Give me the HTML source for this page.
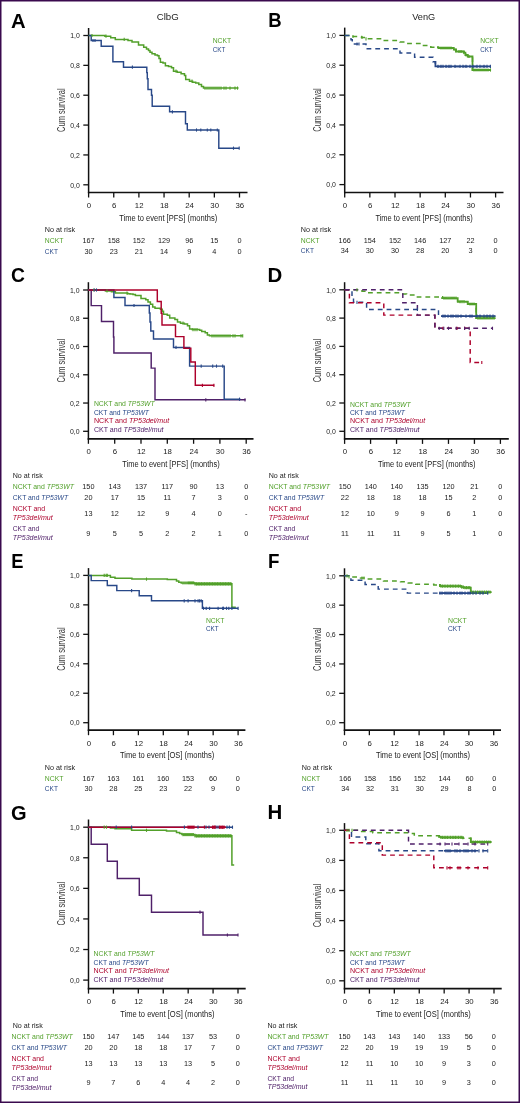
<!DOCTYPE html>
<html><head><meta charset="utf-8"><style>
html,body{margin:0;padding:0;background:#fff;}
svg{display:block;font-family:"Liberation Sans", sans-serif;will-change:transform;}
</style></head><body>
<svg width="520" height="1103" viewBox="0 0 520 1103">
<rect x="0" y="0" width="520" height="1103" fill="#fff"/>
<line x1="88.6" y1="28" x2="88.6" y2="193.3" stroke="#111" stroke-width="1.5"/>
<line x1="87.89999999999999" y1="192.5" x2="247.5" y2="192.5" stroke="#111" stroke-width="1.7"/>
<line x1="83.3" y1="35.50" x2="88.6" y2="35.50" stroke="#111" stroke-width="1.3"/>
<text x="79.80" y="38.25" font-size="7.6" fill="#222" text-anchor="end" textLength="9.6" lengthAdjust="spacingAndGlyphs">1,0</text>
<line x1="83.3" y1="65.36" x2="88.6" y2="65.36" stroke="#111" stroke-width="1.3"/>
<text x="79.80" y="68.11" font-size="7.6" fill="#222" text-anchor="end" textLength="9.6" lengthAdjust="spacingAndGlyphs">0,8</text>
<line x1="83.3" y1="95.22" x2="88.6" y2="95.22" stroke="#111" stroke-width="1.3"/>
<text x="79.80" y="97.97" font-size="7.6" fill="#222" text-anchor="end" textLength="9.6" lengthAdjust="spacingAndGlyphs">0,6</text>
<line x1="83.3" y1="125.08" x2="88.6" y2="125.08" stroke="#111" stroke-width="1.3"/>
<text x="79.80" y="127.83" font-size="7.6" fill="#222" text-anchor="end" textLength="9.6" lengthAdjust="spacingAndGlyphs">0,4</text>
<line x1="83.3" y1="154.94" x2="88.6" y2="154.94" stroke="#111" stroke-width="1.3"/>
<text x="79.80" y="157.69" font-size="7.6" fill="#222" text-anchor="end" textLength="9.6" lengthAdjust="spacingAndGlyphs">0,2</text>
<line x1="83.3" y1="184.80" x2="88.6" y2="184.80" stroke="#111" stroke-width="1.3"/>
<text x="79.80" y="187.55" font-size="7.6" fill="#222" text-anchor="end" textLength="9.6" lengthAdjust="spacingAndGlyphs">0,0</text>
<line x1="88.60" y1="192.5" x2="88.60" y2="197.5" stroke="#111" stroke-width="1.3"/>
<text x="88.90" y="207.80" font-size="7.8" fill="#222" text-anchor="middle">0</text>
<line x1="113.75" y1="192.5" x2="113.75" y2="197.5" stroke="#111" stroke-width="1.3"/>
<text x="114.05" y="207.80" font-size="7.8" fill="#222" text-anchor="middle">6</text>
<line x1="138.90" y1="192.5" x2="138.90" y2="197.5" stroke="#111" stroke-width="1.3"/>
<text x="139.20" y="207.80" font-size="7.8" fill="#222" text-anchor="middle">12</text>
<line x1="164.05" y1="192.5" x2="164.05" y2="197.5" stroke="#111" stroke-width="1.3"/>
<text x="164.35" y="207.80" font-size="7.8" fill="#222" text-anchor="middle">18</text>
<line x1="189.20" y1="192.5" x2="189.20" y2="197.5" stroke="#111" stroke-width="1.3"/>
<text x="189.50" y="207.80" font-size="7.8" fill="#222" text-anchor="middle">24</text>
<line x1="214.35" y1="192.5" x2="214.35" y2="197.5" stroke="#111" stroke-width="1.3"/>
<text x="214.65" y="207.80" font-size="7.8" fill="#222" text-anchor="middle">30</text>
<line x1="239.50" y1="192.5" x2="239.50" y2="197.5" stroke="#111" stroke-width="1.3"/>
<text x="239.80" y="207.80" font-size="7.8" fill="#222" text-anchor="middle">36</text>
<text x="119.20" y="220.60" font-size="9.7" fill="#222" textLength="98" lengthAdjust="spacingAndGlyphs">Time to event [PFS] (months)</text>
<text x="0" y="0" font-size="10" fill="#383838" text-anchor="middle" textLength="43.6" lengthAdjust="spacingAndGlyphs" transform="translate(64.70,110.15) rotate(-90)">Cum survival</text>
<text x="0" y="0" font-size="19.3" font-weight="bold" fill="#000" transform="translate(11.10,27.70) scale(1.05,1)">A</text>
<text x="156.70" y="20.20" font-size="9.6" fill="#222" textLength="22" lengthAdjust="spacingAndGlyphs">ClbG</text>
<path d="M88.60,35.50 L104.90,35.50 L104.90,36.20 L110.70,36.20 L110.70,37.70 L115.30,37.70 L115.30,39.40 L128.00,39.40 L128.00,40.40 L132.00,40.40 L132.00,42.10 L138.50,42.10 L138.50,45.10 L143.70,45.10 L143.70,47.30 L146.50,47.30 L146.50,49.00 L148.50,49.00 L148.50,50.50 L150.00,50.50 L150.00,52.30 L152.00,52.30 L152.00,53.80 L155.00,53.80 L155.00,55.00 L157.50,55.00 L157.50,55.80 L159.00,55.80 L159.00,58.50 L160.40,58.50 L160.40,62.30 L163.00,62.30 L163.00,63.00 L165.40,63.00 L165.40,65.80 L168.50,65.80 L168.50,66.40 L171.50,66.40 L171.50,67.70 L173.50,67.70 L173.50,71.20 L177.20,71.20 L177.20,72.30 L181.10,72.30 L181.10,73.80 L184.50,73.80 L184.50,75.40 L185.70,75.40 L185.70,79.60 L189.50,79.60 L189.50,81.20 L192.60,81.20 L192.60,82.30 L195.70,82.30 L195.70,83.10 L198.80,83.10 L198.80,84.60 L201.50,84.60 L201.50,86.50 L203.50,86.50 L203.50,88.10 L238.50,88.10" fill="none" stroke="#52a02a" stroke-width="1.5"/>
<path d="M88.60,35.50 L91.20,35.50 L91.20,40.50 L101.20,40.50 L101.20,46.20 L112.90,46.20 L112.90,61.80 L123.50,61.80 L123.50,67.20 L146.80,67.20 L146.80,72.60 L147.30,72.60 L147.30,78.80 L148.00,78.80 L148.00,89.50 L151.50,89.50 L151.50,95.20 L152.20,95.20 L152.20,106.20 L169.60,106.20 L169.60,111.80 L185.50,111.80 L185.50,123.80 L187.30,123.80 L187.30,130.00 L218.80,130.00 L218.80,148.20 L239.20,148.20" fill="none" stroke="#284888" stroke-width="1.45"/>
<text x="212.70" y="43.40" font-size="7" fill="#52a02a" textLength="18.5" lengthAdjust="spacingAndGlyphs">NCKT</text>
<text x="212.70" y="51.80" font-size="7" fill="#284888" textLength="12.6" lengthAdjust="spacingAndGlyphs">CKT</text>
<text x="44.80" y="232.00" font-size="7" fill="#222" textLength="30.3" lengthAdjust="spacingAndGlyphs">No at risk</text>
<text x="44.80" y="242.80" font-size="7" fill="#52a02a" textLength="18.6" lengthAdjust="spacingAndGlyphs">NCKT</text>
<text x="44.80" y="253.70" font-size="7" fill="#284888" textLength="13.1" lengthAdjust="spacingAndGlyphs">CKT</text>
<text x="88.60" y="242.80" font-size="7.3" fill="#222" text-anchor="middle">167</text>
<text x="113.75" y="242.80" font-size="7.3" fill="#222" text-anchor="middle">158</text>
<text x="138.90" y="242.80" font-size="7.3" fill="#222" text-anchor="middle">152</text>
<text x="164.05" y="242.80" font-size="7.3" fill="#222" text-anchor="middle">129</text>
<text x="189.20" y="242.80" font-size="7.3" fill="#222" text-anchor="middle">96</text>
<text x="214.35" y="242.80" font-size="7.3" fill="#222" text-anchor="middle">15</text>
<text x="239.50" y="242.80" font-size="7.3" fill="#222" text-anchor="middle">0</text>
<text x="88.60" y="253.70" font-size="7.3" fill="#222" text-anchor="middle">30</text>
<text x="113.75" y="253.70" font-size="7.3" fill="#222" text-anchor="middle">23</text>
<text x="138.90" y="253.70" font-size="7.3" fill="#222" text-anchor="middle">21</text>
<text x="164.05" y="253.70" font-size="7.3" fill="#222" text-anchor="middle">14</text>
<text x="189.20" y="253.70" font-size="7.3" fill="#222" text-anchor="middle">9</text>
<text x="214.35" y="253.70" font-size="7.3" fill="#222" text-anchor="middle">4</text>
<text x="239.50" y="253.70" font-size="7.3" fill="#222" text-anchor="middle">0</text>
<line x1="92.00" y1="33.90" x2="92.00" y2="37.10" stroke="#52a02a" stroke-width="1.1"/>
<line x1="106.00" y1="34.60" x2="106.00" y2="37.80" stroke="#52a02a" stroke-width="1.1"/>
<line x1="124.20" y1="37.80" x2="124.20" y2="41.00" stroke="#52a02a" stroke-width="1.1"/>
<line x1="176.00" y1="69.60" x2="176.00" y2="72.80" stroke="#52a02a" stroke-width="1.1"/>
<line x1="192.00" y1="79.60" x2="192.00" y2="82.80" stroke="#52a02a" stroke-width="1.1"/>
<line x1="205.00" y1="86.50" x2="205.00" y2="89.70" stroke="#52a02a" stroke-width="1.1"/>
<line x1="207.00" y1="86.50" x2="207.00" y2="89.70" stroke="#52a02a" stroke-width="1.1"/>
<line x1="209.00" y1="86.50" x2="209.00" y2="89.70" stroke="#52a02a" stroke-width="1.1"/>
<line x1="211.00" y1="86.50" x2="211.00" y2="89.70" stroke="#52a02a" stroke-width="1.1"/>
<line x1="213.00" y1="86.50" x2="213.00" y2="89.70" stroke="#52a02a" stroke-width="1.1"/>
<line x1="215.00" y1="86.50" x2="215.00" y2="89.70" stroke="#52a02a" stroke-width="1.1"/>
<line x1="217.00" y1="86.50" x2="217.00" y2="89.70" stroke="#52a02a" stroke-width="1.1"/>
<line x1="219.00" y1="86.50" x2="219.00" y2="89.70" stroke="#52a02a" stroke-width="1.1"/>
<line x1="221.00" y1="86.50" x2="221.00" y2="89.70" stroke="#52a02a" stroke-width="1.1"/>
<line x1="224.00" y1="86.50" x2="224.00" y2="89.70" stroke="#52a02a" stroke-width="1.1"/>
<line x1="226.00" y1="86.50" x2="226.00" y2="89.70" stroke="#52a02a" stroke-width="1.1"/>
<line x1="230.00" y1="86.50" x2="230.00" y2="89.70" stroke="#52a02a" stroke-width="1.1"/>
<line x1="235.00" y1="86.50" x2="235.00" y2="89.70" stroke="#52a02a" stroke-width="1.1"/>
<line x1="237.50" y1="86.50" x2="237.50" y2="89.70" stroke="#52a02a" stroke-width="1.1"/>
<line x1="93.00" y1="38.90" x2="93.00" y2="42.10" stroke="#284888" stroke-width="1.1"/>
<line x1="95.00" y1="38.90" x2="95.00" y2="42.10" stroke="#284888" stroke-width="1.1"/>
<line x1="132.40" y1="65.60" x2="132.40" y2="68.80" stroke="#284888" stroke-width="1.1"/>
<line x1="172.40" y1="110.20" x2="172.40" y2="113.40" stroke="#284888" stroke-width="1.1"/>
<line x1="196.50" y1="128.40" x2="196.50" y2="131.60" stroke="#284888" stroke-width="1.1"/>
<line x1="200.80" y1="128.40" x2="200.80" y2="131.60" stroke="#284888" stroke-width="1.1"/>
<line x1="207.30" y1="128.40" x2="207.30" y2="131.60" stroke="#284888" stroke-width="1.1"/>
<line x1="210.80" y1="128.40" x2="210.80" y2="131.60" stroke="#284888" stroke-width="1.1"/>
<line x1="217.30" y1="128.40" x2="217.30" y2="131.60" stroke="#284888" stroke-width="1.1"/>
<line x1="233.50" y1="146.60" x2="233.50" y2="149.80" stroke="#284888" stroke-width="1.1"/>
<line x1="239.20" y1="146.60" x2="239.20" y2="149.80" stroke="#284888" stroke-width="1.1"/>
<line x1="344.7" y1="27.6" x2="344.7" y2="193.3" stroke="#111" stroke-width="1.5"/>
<line x1="344.0" y1="192.5" x2="503.5" y2="192.5" stroke="#111" stroke-width="1.7"/>
<line x1="339.4" y1="35.40" x2="344.7" y2="35.40" stroke="#111" stroke-width="1.3"/>
<text x="335.90" y="38.15" font-size="7.6" fill="#222" text-anchor="end" textLength="9.6" lengthAdjust="spacingAndGlyphs">1,0</text>
<line x1="339.4" y1="65.24" x2="344.7" y2="65.24" stroke="#111" stroke-width="1.3"/>
<text x="335.90" y="67.99" font-size="7.6" fill="#222" text-anchor="end" textLength="9.6" lengthAdjust="spacingAndGlyphs">0,8</text>
<line x1="339.4" y1="95.08" x2="344.7" y2="95.08" stroke="#111" stroke-width="1.3"/>
<text x="335.90" y="97.83" font-size="7.6" fill="#222" text-anchor="end" textLength="9.6" lengthAdjust="spacingAndGlyphs">0,6</text>
<line x1="339.4" y1="124.92" x2="344.7" y2="124.92" stroke="#111" stroke-width="1.3"/>
<text x="335.90" y="127.67" font-size="7.6" fill="#222" text-anchor="end" textLength="9.6" lengthAdjust="spacingAndGlyphs">0,4</text>
<line x1="339.4" y1="154.76" x2="344.7" y2="154.76" stroke="#111" stroke-width="1.3"/>
<text x="335.90" y="157.51" font-size="7.6" fill="#222" text-anchor="end" textLength="9.6" lengthAdjust="spacingAndGlyphs">0,2</text>
<line x1="339.4" y1="184.60" x2="344.7" y2="184.60" stroke="#111" stroke-width="1.3"/>
<text x="335.90" y="187.35" font-size="7.6" fill="#222" text-anchor="end" textLength="9.6" lengthAdjust="spacingAndGlyphs">0,0</text>
<line x1="344.70" y1="192.5" x2="344.70" y2="197.5" stroke="#111" stroke-width="1.3"/>
<text x="345.00" y="207.80" font-size="7.8" fill="#222" text-anchor="middle">0</text>
<line x1="369.85" y1="192.5" x2="369.85" y2="197.5" stroke="#111" stroke-width="1.3"/>
<text x="370.15" y="207.80" font-size="7.8" fill="#222" text-anchor="middle">6</text>
<line x1="395.00" y1="192.5" x2="395.00" y2="197.5" stroke="#111" stroke-width="1.3"/>
<text x="395.30" y="207.80" font-size="7.8" fill="#222" text-anchor="middle">12</text>
<line x1="420.15" y1="192.5" x2="420.15" y2="197.5" stroke="#111" stroke-width="1.3"/>
<text x="420.45" y="207.80" font-size="7.8" fill="#222" text-anchor="middle">18</text>
<line x1="445.30" y1="192.5" x2="445.30" y2="197.5" stroke="#111" stroke-width="1.3"/>
<text x="445.60" y="207.80" font-size="7.8" fill="#222" text-anchor="middle">24</text>
<line x1="470.45" y1="192.5" x2="470.45" y2="197.5" stroke="#111" stroke-width="1.3"/>
<text x="470.75" y="207.80" font-size="7.8" fill="#222" text-anchor="middle">30</text>
<line x1="495.60" y1="192.5" x2="495.60" y2="197.5" stroke="#111" stroke-width="1.3"/>
<text x="495.90" y="207.80" font-size="7.8" fill="#222" text-anchor="middle">36</text>
<text x="375.40" y="220.60" font-size="9.7" fill="#222" textLength="97.3" lengthAdjust="spacingAndGlyphs">Time to event [PFS] (months)</text>
<text x="0" y="0" font-size="10" fill="#383838" text-anchor="middle" textLength="43.6" lengthAdjust="spacingAndGlyphs" transform="translate(320.80,110.00) rotate(-90)">Cum survival</text>
<text x="0" y="0" font-size="19.3" font-weight="bold" fill="#000" transform="translate(268.30,27.20) scale(0.96,1)">B</text>
<text x="412.20" y="20.20" font-size="9.6" fill="#222" textLength="23" lengthAdjust="spacingAndGlyphs">VenG</text>
<path d="M344.70,35.40 L352.30,35.40 L352.30,36.50 L361.50,36.50 L361.50,37.50 L366.00,37.50 L366.00,38.80 L382.00,38.80 L382.00,40.60 L400.00,40.60 L400.00,42.00 L405.00,42.00 L405.00,43.40 L420.80,43.40 L420.80,45.40 L430.80,45.40 L430.80,47.20 L438.50,47.20 L438.50,48.00 L453.80,48.00 L453.80,49.50 L456.00,49.50 L456.00,51.50 L463.80,51.50 L463.80,52.60 L465.40,52.60 L465.40,55.00 L467.70,55.00 L467.70,56.50 L472.50,56.50 L472.50,70.00 L491.00,70.00" fill="none" stroke="#52a02a" stroke-width="1.5" stroke-dasharray="4.8,4"/>
<path d="M437.00,47.20 L438.50,47.20 L438.50,47.20 L438.50,48.00 L438.50,48.00 L453.80,48.00 L453.80,48.00 L453.80,49.50 L453.80,49.50 L456.00,49.50 L456.00,49.50 L456.00,51.50 L456.00,51.50 L463.80,51.50 L463.80,51.50 L463.80,52.60 L463.80,52.60 L465.40,52.60 L465.40,52.60 L465.40,55.00 L465.40,55.00 L467.70,55.00 L467.70,55.00 L467.70,56.50 L467.70,56.50 L472.50,56.50 L472.50,56.50 L472.50,70.00 L472.50,70.00 L491.00,70.00" fill="none" stroke="#52a02a" stroke-width="1.8"/>
<path d="M344.70,35.40 L351.00,35.40 L351.00,39.80 L352.30,39.80 L352.30,44.00 L366.00,44.00 L366.00,48.80 L400.00,48.80 L400.00,52.90 L414.60,52.90 L414.60,57.20 L433.00,57.20 L433.00,61.80 L435.40,61.80 L435.40,66.40 L490.40,66.40" fill="none" stroke="#284888" stroke-width="1.45" stroke-dasharray="4.8,4"/>
<path d="M435.00,61.80 L435.40,61.80 L435.40,61.80 L435.40,66.40 L435.40,66.40 L490.40,66.40" fill="none" stroke="#284888" stroke-width="1.75"/>
<text x="480.20" y="43.00" font-size="7" fill="#52a02a" textLength="18.3" lengthAdjust="spacingAndGlyphs">NCKT</text>
<text x="480.20" y="51.70" font-size="7" fill="#284888" textLength="12.5" lengthAdjust="spacingAndGlyphs">CKT</text>
<text x="300.80" y="231.70" font-size="7" fill="#222" textLength="30.3" lengthAdjust="spacingAndGlyphs">No at risk</text>
<text x="300.80" y="242.60" font-size="7" fill="#52a02a" textLength="18.6" lengthAdjust="spacingAndGlyphs">NCKT</text>
<text x="300.80" y="253.20" font-size="7" fill="#284888" textLength="13.1" lengthAdjust="spacingAndGlyphs">CKT</text>
<text x="344.70" y="242.60" font-size="7.3" fill="#222" text-anchor="middle">166</text>
<text x="369.85" y="242.60" font-size="7.3" fill="#222" text-anchor="middle">154</text>
<text x="395.00" y="242.60" font-size="7.3" fill="#222" text-anchor="middle">152</text>
<text x="420.15" y="242.60" font-size="7.3" fill="#222" text-anchor="middle">146</text>
<text x="445.30" y="242.60" font-size="7.3" fill="#222" text-anchor="middle">127</text>
<text x="470.45" y="242.60" font-size="7.3" fill="#222" text-anchor="middle">22</text>
<text x="495.60" y="242.60" font-size="7.3" fill="#222" text-anchor="middle">0</text>
<text x="344.70" y="253.20" font-size="7.3" fill="#222" text-anchor="middle">34</text>
<text x="369.85" y="253.20" font-size="7.3" fill="#222" text-anchor="middle">30</text>
<text x="395.00" y="253.20" font-size="7.3" fill="#222" text-anchor="middle">30</text>
<text x="420.15" y="253.20" font-size="7.3" fill="#222" text-anchor="middle">28</text>
<text x="445.30" y="253.20" font-size="7.3" fill="#222" text-anchor="middle">20</text>
<text x="470.45" y="253.20" font-size="7.3" fill="#222" text-anchor="middle">3</text>
<text x="495.60" y="253.20" font-size="7.3" fill="#222" text-anchor="middle">0</text>
<line x1="353.00" y1="34.90" x2="353.00" y2="38.10" stroke="#52a02a" stroke-width="1.1"/>
<line x1="362.00" y1="35.90" x2="362.00" y2="39.10" stroke="#52a02a" stroke-width="1.1"/>
<line x1="366.00" y1="37.20" x2="366.00" y2="40.40" stroke="#52a02a" stroke-width="1.1"/>
<line x1="441.00" y1="46.40" x2="441.00" y2="49.60" stroke="#52a02a" stroke-width="1.1"/>
<line x1="443.00" y1="46.40" x2="443.00" y2="49.60" stroke="#52a02a" stroke-width="1.1"/>
<line x1="445.00" y1="46.40" x2="445.00" y2="49.60" stroke="#52a02a" stroke-width="1.1"/>
<line x1="447.00" y1="46.40" x2="447.00" y2="49.60" stroke="#52a02a" stroke-width="1.1"/>
<line x1="449.00" y1="46.40" x2="449.00" y2="49.60" stroke="#52a02a" stroke-width="1.1"/>
<line x1="451.00" y1="46.40" x2="451.00" y2="49.60" stroke="#52a02a" stroke-width="1.1"/>
<line x1="459.00" y1="49.90" x2="459.00" y2="53.10" stroke="#52a02a" stroke-width="1.1"/>
<line x1="461.00" y1="49.90" x2="461.00" y2="53.10" stroke="#52a02a" stroke-width="1.1"/>
<line x1="464.00" y1="51.00" x2="464.00" y2="54.20" stroke="#52a02a" stroke-width="1.1"/>
<line x1="466.00" y1="53.40" x2="466.00" y2="56.60" stroke="#52a02a" stroke-width="1.1"/>
<line x1="469.00" y1="54.90" x2="469.00" y2="58.10" stroke="#52a02a" stroke-width="1.1"/>
<line x1="474.00" y1="68.40" x2="474.00" y2="71.60" stroke="#52a02a" stroke-width="1.1"/>
<line x1="476.00" y1="68.40" x2="476.00" y2="71.60" stroke="#52a02a" stroke-width="1.1"/>
<line x1="478.00" y1="68.40" x2="478.00" y2="71.60" stroke="#52a02a" stroke-width="1.1"/>
<line x1="480.00" y1="68.40" x2="480.00" y2="71.60" stroke="#52a02a" stroke-width="1.1"/>
<line x1="482.00" y1="68.40" x2="482.00" y2="71.60" stroke="#52a02a" stroke-width="1.1"/>
<line x1="484.00" y1="68.40" x2="484.00" y2="71.60" stroke="#52a02a" stroke-width="1.1"/>
<line x1="486.00" y1="68.40" x2="486.00" y2="71.60" stroke="#52a02a" stroke-width="1.1"/>
<line x1="488.00" y1="68.40" x2="488.00" y2="71.60" stroke="#52a02a" stroke-width="1.1"/>
<line x1="490.50" y1="68.40" x2="490.50" y2="71.60" stroke="#52a02a" stroke-width="1.1"/>
<line x1="357.00" y1="42.40" x2="357.00" y2="45.60" stroke="#284888" stroke-width="1.1"/>
<line x1="359.00" y1="42.40" x2="359.00" y2="45.60" stroke="#284888" stroke-width="1.1"/>
<line x1="438.00" y1="64.80" x2="438.00" y2="68.00" stroke="#284888" stroke-width="1.1"/>
<line x1="441.00" y1="64.80" x2="441.00" y2="68.00" stroke="#284888" stroke-width="1.1"/>
<line x1="443.00" y1="64.80" x2="443.00" y2="68.00" stroke="#284888" stroke-width="1.1"/>
<line x1="446.00" y1="64.80" x2="446.00" y2="68.00" stroke="#284888" stroke-width="1.1"/>
<line x1="449.00" y1="64.80" x2="449.00" y2="68.00" stroke="#284888" stroke-width="1.1"/>
<line x1="451.00" y1="64.80" x2="451.00" y2="68.00" stroke="#284888" stroke-width="1.1"/>
<line x1="455.00" y1="64.80" x2="455.00" y2="68.00" stroke="#284888" stroke-width="1.1"/>
<line x1="460.00" y1="64.80" x2="460.00" y2="68.00" stroke="#284888" stroke-width="1.1"/>
<line x1="463.00" y1="64.80" x2="463.00" y2="68.00" stroke="#284888" stroke-width="1.1"/>
<line x1="466.00" y1="64.80" x2="466.00" y2="68.00" stroke="#284888" stroke-width="1.1"/>
<line x1="470.00" y1="64.80" x2="470.00" y2="68.00" stroke="#284888" stroke-width="1.1"/>
<line x1="473.00" y1="64.80" x2="473.00" y2="68.00" stroke="#284888" stroke-width="1.1"/>
<line x1="477.00" y1="64.80" x2="477.00" y2="68.00" stroke="#284888" stroke-width="1.1"/>
<line x1="480.00" y1="64.80" x2="480.00" y2="68.00" stroke="#284888" stroke-width="1.1"/>
<line x1="484.00" y1="64.80" x2="484.00" y2="68.00" stroke="#284888" stroke-width="1.1"/>
<line x1="487.00" y1="64.80" x2="487.00" y2="68.00" stroke="#284888" stroke-width="1.1"/>
<line x1="490.40" y1="64.80" x2="490.40" y2="68.00" stroke="#284888" stroke-width="1.1"/>
<line x1="88.4" y1="282.2" x2="88.4" y2="439.6" stroke="#111" stroke-width="1.5"/>
<line x1="87.7" y1="438.8" x2="253.5" y2="438.8" stroke="#111" stroke-width="1.7"/>
<line x1="83.10000000000001" y1="290.00" x2="88.4" y2="290.00" stroke="#111" stroke-width="1.3"/>
<text x="79.60" y="292.75" font-size="7.6" fill="#222" text-anchor="end" textLength="9.6" lengthAdjust="spacingAndGlyphs">1,0</text>
<line x1="83.10000000000001" y1="318.26" x2="88.4" y2="318.26" stroke="#111" stroke-width="1.3"/>
<text x="79.60" y="321.01" font-size="7.6" fill="#222" text-anchor="end" textLength="9.6" lengthAdjust="spacingAndGlyphs">0,8</text>
<line x1="83.10000000000001" y1="346.52" x2="88.4" y2="346.52" stroke="#111" stroke-width="1.3"/>
<text x="79.60" y="349.27" font-size="7.6" fill="#222" text-anchor="end" textLength="9.6" lengthAdjust="spacingAndGlyphs">0,6</text>
<line x1="83.10000000000001" y1="374.78" x2="88.4" y2="374.78" stroke="#111" stroke-width="1.3"/>
<text x="79.60" y="377.53" font-size="7.6" fill="#222" text-anchor="end" textLength="9.6" lengthAdjust="spacingAndGlyphs">0,4</text>
<line x1="83.10000000000001" y1="403.04" x2="88.4" y2="403.04" stroke="#111" stroke-width="1.3"/>
<text x="79.60" y="405.79" font-size="7.6" fill="#222" text-anchor="end" textLength="9.6" lengthAdjust="spacingAndGlyphs">0,2</text>
<line x1="83.10000000000001" y1="431.30" x2="88.4" y2="431.30" stroke="#111" stroke-width="1.3"/>
<text x="79.60" y="434.05" font-size="7.6" fill="#222" text-anchor="end" textLength="9.6" lengthAdjust="spacingAndGlyphs">0,0</text>
<line x1="88.40" y1="438.8" x2="88.40" y2="443.8" stroke="#111" stroke-width="1.3"/>
<text x="88.70" y="454.10" font-size="7.8" fill="#222" text-anchor="middle">0</text>
<line x1="114.70" y1="438.8" x2="114.70" y2="443.8" stroke="#111" stroke-width="1.3"/>
<text x="115.00" y="454.10" font-size="7.8" fill="#222" text-anchor="middle">6</text>
<line x1="141.00" y1="438.8" x2="141.00" y2="443.8" stroke="#111" stroke-width="1.3"/>
<text x="141.30" y="454.10" font-size="7.8" fill="#222" text-anchor="middle">12</text>
<line x1="167.30" y1="438.8" x2="167.30" y2="443.8" stroke="#111" stroke-width="1.3"/>
<text x="167.60" y="454.10" font-size="7.8" fill="#222" text-anchor="middle">18</text>
<line x1="193.60" y1="438.8" x2="193.60" y2="443.8" stroke="#111" stroke-width="1.3"/>
<text x="193.90" y="454.10" font-size="7.8" fill="#222" text-anchor="middle">24</text>
<line x1="219.90" y1="438.8" x2="219.90" y2="443.8" stroke="#111" stroke-width="1.3"/>
<text x="220.20" y="454.10" font-size="7.8" fill="#222" text-anchor="middle">30</text>
<line x1="246.20" y1="438.8" x2="246.20" y2="443.8" stroke="#111" stroke-width="1.3"/>
<text x="246.50" y="454.10" font-size="7.8" fill="#222" text-anchor="middle">36</text>
<text x="122.20" y="466.90" font-size="9.7" fill="#222" textLength="97.5" lengthAdjust="spacingAndGlyphs">Time to event [PFS] (months)</text>
<text x="0" y="0" font-size="10" fill="#383838" text-anchor="middle" textLength="43.6" lengthAdjust="spacingAndGlyphs" transform="translate(64.50,360.65) rotate(-90)">Cum survival</text>
<text x="0" y="0" font-size="19.3" font-weight="bold" fill="#000" transform="translate(11.00,281.80) scale(1.0,1)">C</text>
<path d="M88.40,290.00 L105.40,290.00 L105.40,291.00 L111.50,291.00 L111.50,291.80 L115.40,291.80 L115.40,293.10 L127.70,293.10 L127.70,293.70 L130.00,293.70 L130.00,294.10 L133.00,294.10 L133.00,294.50 L135.40,294.50 L135.40,295.40 L141.00,295.40 L141.00,298.60 L145.80,298.60 L145.80,299.70 L148.00,299.70 L148.00,302.00 L150.40,302.00 L150.40,304.30 L152.70,304.30 L152.70,307.00 L155.00,307.00 L155.00,308.20 L160.40,308.20 L160.40,309.30 L162.30,309.30 L162.30,311.20 L163.50,311.20 L163.50,314.30 L167.30,314.30 L167.30,315.30 L169.70,315.30 L169.70,318.10 L174.90,318.10 L174.90,319.40 L177.50,319.40 L177.50,322.00 L180.50,322.00 L180.50,323.20 L184.40,323.20 L184.40,323.90 L187.50,323.90 L187.50,325.80 L189.60,325.80 L189.60,328.90 L192.20,328.90 L192.20,329.60 L199.60,329.60 L199.60,330.20 L201.70,330.20 L201.70,331.50 L205.20,331.50 L205.20,332.80 L207.40,332.80 L207.40,334.90 L209.50,334.90 L209.50,335.80 L242.70,335.80" fill="none" stroke="#52a02a" stroke-width="1.5"/>
<path d="M88.40,290.00 L91.20,290.00 L91.20,305.60 L101.50,305.60 L101.50,321.50 L113.50,321.50 L113.50,337.00 L113.90,337.00 L113.90,352.90 L151.20,352.90 L151.20,368.10 L155.00,368.10 L155.00,399.80 L245.50,399.80" fill="none" stroke="#4f2069" stroke-width="1.45"/>
<path d="M88.40,290.00 L113.90,290.00 L113.90,297.40 L125.00,297.40 L125.00,305.50 L149.30,305.50 L149.30,313.00 L150.00,313.00 L150.00,322.00 L150.80,322.00 L150.80,331.00 L153.50,331.00 L153.50,339.00 L173.50,339.00 L173.50,347.40 L189.60,347.40 L189.60,366.10 L224.20,366.10 L224.20,399.20 L240.40,399.20" fill="none" stroke="#284888" stroke-width="1.45"/>
<path d="M88.40,290.00 L157.30,290.00 L157.30,301.50 L161.20,301.50 L161.20,313.30 L162.00,313.30 L162.00,325.00 L175.50,325.00 L175.50,336.60 L183.90,336.60 L183.90,348.20 L190.80,348.20 L190.80,361.90 L195.30,361.90 L195.30,385.30 L214.20,385.30" fill="none" stroke="#ad002b" stroke-width="1.45"/>
<text x="93.90" y="406.20" font-size="7" fill="#52a02a" textLength="60.8" lengthAdjust="spacingAndGlyphs">NCKT and <tspan font-style="italic">TP53WT</tspan></text>
<text x="93.90" y="414.70" font-size="7" fill="#284888" textLength="55.0" lengthAdjust="spacingAndGlyphs">CKT and <tspan font-style="italic">TP53WT</tspan></text>
<text x="93.90" y="423.20" font-size="7" fill="#ad002b" textLength="75.3" lengthAdjust="spacingAndGlyphs">NCKT and <tspan font-style="italic">TP53del/mut</tspan></text>
<text x="93.90" y="431.60" font-size="7" fill="#4f2069" textLength="69.7" lengthAdjust="spacingAndGlyphs">CKT and <tspan font-style="italic">TP53del/mut</tspan></text>
<text x="12.70" y="478.30" font-size="7" fill="#222" textLength="30" lengthAdjust="spacingAndGlyphs">No at risk</text>
<text x="12.70" y="488.80" font-size="7" fill="#52a02a" textLength="61.2" lengthAdjust="spacingAndGlyphs">NCKT and <tspan font-style="italic">TP53WT</tspan></text>
<text x="12.70" y="500.10" font-size="7" fill="#284888" textLength="55.5" lengthAdjust="spacingAndGlyphs">CKT and <tspan font-style="italic">TP53WT</tspan></text>
<text x="12.70" y="511.40" font-size="7" fill="#ad002b" textLength="32.4" lengthAdjust="spacingAndGlyphs">NCKT and</text>
<text x="12.70" y="519.80" font-size="7" fill="#ad002b" textLength="40" lengthAdjust="spacingAndGlyphs"><tspan font-style="italic">TP53del/mut</tspan></text>
<text x="12.70" y="531.40" font-size="7" fill="#4f2069" textLength="26.6" lengthAdjust="spacingAndGlyphs">CKT and</text>
<text x="12.70" y="539.60" font-size="7" fill="#4f2069" textLength="40" lengthAdjust="spacingAndGlyphs"><tspan font-style="italic">TP53del/mut</tspan></text>
<text x="88.40" y="489.20" font-size="7.3" fill="#222" text-anchor="middle">150</text>
<text x="114.70" y="489.20" font-size="7.3" fill="#222" text-anchor="middle">143</text>
<text x="141.00" y="489.20" font-size="7.3" fill="#222" text-anchor="middle">137</text>
<text x="167.30" y="489.20" font-size="7.3" fill="#222" text-anchor="middle">117</text>
<text x="193.60" y="489.20" font-size="7.3" fill="#222" text-anchor="middle">90</text>
<text x="219.90" y="489.20" font-size="7.3" fill="#222" text-anchor="middle">13</text>
<text x="246.20" y="489.20" font-size="7.3" fill="#222" text-anchor="middle">0</text>
<text x="88.40" y="500.40" font-size="7.3" fill="#222" text-anchor="middle">20</text>
<text x="114.70" y="500.40" font-size="7.3" fill="#222" text-anchor="middle">17</text>
<text x="141.00" y="500.40" font-size="7.3" fill="#222" text-anchor="middle">15</text>
<text x="167.30" y="500.40" font-size="7.3" fill="#222" text-anchor="middle">11</text>
<text x="193.60" y="500.40" font-size="7.3" fill="#222" text-anchor="middle">7</text>
<text x="219.90" y="500.40" font-size="7.3" fill="#222" text-anchor="middle">3</text>
<text x="246.20" y="500.40" font-size="7.3" fill="#222" text-anchor="middle">0</text>
<text x="88.40" y="515.90" font-size="7.3" fill="#222" text-anchor="middle">13</text>
<text x="114.70" y="515.90" font-size="7.3" fill="#222" text-anchor="middle">12</text>
<text x="141.00" y="515.90" font-size="7.3" fill="#222" text-anchor="middle">12</text>
<text x="167.30" y="515.90" font-size="7.3" fill="#222" text-anchor="middle">9</text>
<text x="193.60" y="515.90" font-size="7.3" fill="#222" text-anchor="middle">4</text>
<text x="219.90" y="515.90" font-size="7.3" fill="#222" text-anchor="middle">0</text>
<text x="246.20" y="515.90" font-size="7.3" fill="#222" text-anchor="middle">-</text>
<text x="88.40" y="535.50" font-size="7.3" fill="#222" text-anchor="middle">9</text>
<text x="114.70" y="535.50" font-size="7.3" fill="#222" text-anchor="middle">5</text>
<text x="141.00" y="535.50" font-size="7.3" fill="#222" text-anchor="middle">5</text>
<text x="167.30" y="535.50" font-size="7.3" fill="#222" text-anchor="middle">2</text>
<text x="193.60" y="535.50" font-size="7.3" fill="#222" text-anchor="middle">2</text>
<text x="219.90" y="535.50" font-size="7.3" fill="#222" text-anchor="middle">1</text>
<text x="246.20" y="535.50" font-size="7.3" fill="#222" text-anchor="middle">0</text>
<line x1="94.00" y1="288.40" x2="94.00" y2="291.60" stroke="#52a02a" stroke-width="1.1"/>
<line x1="107.00" y1="289.40" x2="107.00" y2="292.60" stroke="#52a02a" stroke-width="1.1"/>
<line x1="127.00" y1="291.50" x2="127.00" y2="294.70" stroke="#52a02a" stroke-width="1.1"/>
<line x1="183.00" y1="321.60" x2="183.00" y2="324.80" stroke="#52a02a" stroke-width="1.1"/>
<line x1="193.00" y1="328.00" x2="193.00" y2="331.20" stroke="#52a02a" stroke-width="1.1"/>
<line x1="195.00" y1="328.00" x2="195.00" y2="331.20" stroke="#52a02a" stroke-width="1.1"/>
<line x1="197.00" y1="328.00" x2="197.00" y2="331.20" stroke="#52a02a" stroke-width="1.1"/>
<line x1="212.00" y1="334.20" x2="212.00" y2="337.40" stroke="#52a02a" stroke-width="1.1"/>
<line x1="214.00" y1="334.20" x2="214.00" y2="337.40" stroke="#52a02a" stroke-width="1.1"/>
<line x1="216.00" y1="334.20" x2="216.00" y2="337.40" stroke="#52a02a" stroke-width="1.1"/>
<line x1="218.00" y1="334.20" x2="218.00" y2="337.40" stroke="#52a02a" stroke-width="1.1"/>
<line x1="220.00" y1="334.20" x2="220.00" y2="337.40" stroke="#52a02a" stroke-width="1.1"/>
<line x1="222.00" y1="334.20" x2="222.00" y2="337.40" stroke="#52a02a" stroke-width="1.1"/>
<line x1="224.00" y1="334.20" x2="224.00" y2="337.40" stroke="#52a02a" stroke-width="1.1"/>
<line x1="226.00" y1="334.20" x2="226.00" y2="337.40" stroke="#52a02a" stroke-width="1.1"/>
<line x1="228.00" y1="334.20" x2="228.00" y2="337.40" stroke="#52a02a" stroke-width="1.1"/>
<line x1="230.00" y1="334.20" x2="230.00" y2="337.40" stroke="#52a02a" stroke-width="1.1"/>
<line x1="233.00" y1="334.20" x2="233.00" y2="337.40" stroke="#52a02a" stroke-width="1.1"/>
<line x1="235.00" y1="334.20" x2="235.00" y2="337.40" stroke="#52a02a" stroke-width="1.1"/>
<line x1="241.00" y1="334.20" x2="241.00" y2="337.40" stroke="#52a02a" stroke-width="1.1"/>
<line x1="242.70" y1="334.20" x2="242.70" y2="337.40" stroke="#52a02a" stroke-width="1.1"/>
<line x1="205.80" y1="398.20" x2="205.80" y2="401.40" stroke="#4f2069" stroke-width="1.1"/>
<line x1="245.00" y1="398.20" x2="245.00" y2="401.40" stroke="#4f2069" stroke-width="1.1"/>
<line x1="94.20" y1="288.40" x2="94.20" y2="291.60" stroke="#284888" stroke-width="1.1"/>
<line x1="96.50" y1="288.40" x2="96.50" y2="291.60" stroke="#284888" stroke-width="1.1"/>
<line x1="134.00" y1="303.90" x2="134.00" y2="307.10" stroke="#284888" stroke-width="1.1"/>
<line x1="176.00" y1="345.80" x2="176.00" y2="349.00" stroke="#284888" stroke-width="1.1"/>
<line x1="201.20" y1="364.50" x2="201.20" y2="367.70" stroke="#284888" stroke-width="1.1"/>
<line x1="212.70" y1="364.50" x2="212.70" y2="367.70" stroke="#284888" stroke-width="1.1"/>
<line x1="216.50" y1="364.50" x2="216.50" y2="367.70" stroke="#284888" stroke-width="1.1"/>
<line x1="222.70" y1="364.50" x2="222.70" y2="367.70" stroke="#284888" stroke-width="1.1"/>
<line x1="239.50" y1="397.60" x2="239.50" y2="400.80" stroke="#284888" stroke-width="1.1"/>
<line x1="202.40" y1="383.70" x2="202.40" y2="386.90" stroke="#ad002b" stroke-width="1.1"/>
<line x1="213.90" y1="383.70" x2="213.90" y2="386.90" stroke="#ad002b" stroke-width="1.1"/>
<line x1="344.6" y1="282.2" x2="344.6" y2="439.7" stroke="#111" stroke-width="1.5"/>
<line x1="343.90000000000003" y1="438.9" x2="508.8" y2="438.9" stroke="#111" stroke-width="1.7"/>
<line x1="339.3" y1="289.80" x2="344.6" y2="289.80" stroke="#111" stroke-width="1.3"/>
<text x="335.80" y="292.55" font-size="7.6" fill="#222" text-anchor="end" textLength="9.6" lengthAdjust="spacingAndGlyphs">1,0</text>
<line x1="339.3" y1="318.10" x2="344.6" y2="318.10" stroke="#111" stroke-width="1.3"/>
<text x="335.80" y="320.85" font-size="7.6" fill="#222" text-anchor="end" textLength="9.6" lengthAdjust="spacingAndGlyphs">0,8</text>
<line x1="339.3" y1="346.40" x2="344.6" y2="346.40" stroke="#111" stroke-width="1.3"/>
<text x="335.80" y="349.15" font-size="7.6" fill="#222" text-anchor="end" textLength="9.6" lengthAdjust="spacingAndGlyphs">0,6</text>
<line x1="339.3" y1="374.70" x2="344.6" y2="374.70" stroke="#111" stroke-width="1.3"/>
<text x="335.80" y="377.45" font-size="7.6" fill="#222" text-anchor="end" textLength="9.6" lengthAdjust="spacingAndGlyphs">0,4</text>
<line x1="339.3" y1="403.00" x2="344.6" y2="403.00" stroke="#111" stroke-width="1.3"/>
<text x="335.80" y="405.75" font-size="7.6" fill="#222" text-anchor="end" textLength="9.6" lengthAdjust="spacingAndGlyphs">0,2</text>
<line x1="339.3" y1="431.30" x2="344.6" y2="431.30" stroke="#111" stroke-width="1.3"/>
<text x="335.80" y="434.05" font-size="7.6" fill="#222" text-anchor="end" textLength="9.6" lengthAdjust="spacingAndGlyphs">0,0</text>
<line x1="344.60" y1="438.9" x2="344.60" y2="443.9" stroke="#111" stroke-width="1.3"/>
<text x="344.90" y="454.20" font-size="7.8" fill="#222" text-anchor="middle">0</text>
<line x1="370.57" y1="438.9" x2="370.57" y2="443.9" stroke="#111" stroke-width="1.3"/>
<text x="370.87" y="454.20" font-size="7.8" fill="#222" text-anchor="middle">6</text>
<line x1="396.53" y1="438.9" x2="396.53" y2="443.9" stroke="#111" stroke-width="1.3"/>
<text x="396.83" y="454.20" font-size="7.8" fill="#222" text-anchor="middle">12</text>
<line x1="422.50" y1="438.9" x2="422.50" y2="443.9" stroke="#111" stroke-width="1.3"/>
<text x="422.80" y="454.20" font-size="7.8" fill="#222" text-anchor="middle">18</text>
<line x1="448.47" y1="438.9" x2="448.47" y2="443.9" stroke="#111" stroke-width="1.3"/>
<text x="448.77" y="454.20" font-size="7.8" fill="#222" text-anchor="middle">24</text>
<line x1="474.43" y1="438.9" x2="474.43" y2="443.9" stroke="#111" stroke-width="1.3"/>
<text x="474.73" y="454.20" font-size="7.8" fill="#222" text-anchor="middle">30</text>
<line x1="500.40" y1="438.9" x2="500.40" y2="443.9" stroke="#111" stroke-width="1.3"/>
<text x="500.70" y="454.20" font-size="7.8" fill="#222" text-anchor="middle">36</text>
<text x="377.90" y="467.00" font-size="9.7" fill="#222" textLength="97.5" lengthAdjust="spacingAndGlyphs">Time to event [PFS] (months)</text>
<text x="0" y="0" font-size="10" fill="#383838" text-anchor="middle" textLength="43.6" lengthAdjust="spacingAndGlyphs" transform="translate(320.70,360.55) rotate(-90)">Cum survival</text>
<text x="0" y="0" font-size="19.3" font-weight="bold" fill="#000" transform="translate(267.40,281.70) scale(1.06,1)">D</text>
<path d="M344.60,289.80 L362.00,289.80 L362.00,291.20 L365.00,291.20 L365.00,292.80 L402.80,292.80 L402.80,294.00 L406.60,294.00 L406.60,295.00 L417.40,295.00 L417.40,297.00 L442.30,297.00 L442.30,298.20 L457.70,298.20 L457.70,301.70 L467.70,301.70 L467.70,304.00 L476.20,304.00 L476.20,318.20 L495.40,318.20" fill="none" stroke="#52a02a" stroke-width="1.5" stroke-dasharray="4.8,4"/>
<path d="M442.00,297.00 L442.30,297.00 L442.30,297.00 L442.30,298.20 L442.30,298.20 L457.70,298.20 L457.70,298.20 L457.70,301.70 L457.70,301.70 L467.70,301.70 L467.70,301.70 L467.70,304.00 L467.70,304.00 L476.20,304.00 L476.20,304.00 L476.20,318.20 L476.20,318.20 L495.40,318.20" fill="none" stroke="#52a02a" stroke-width="1.8"/>
<path d="M344.60,289.80 L352.00,289.80 L352.00,296.60 L353.50,296.60 L353.50,302.30 L366.60,302.30 L366.60,309.40 L438.50,309.40 L438.50,316.20 L495.40,316.20" fill="none" stroke="#284888" stroke-width="1.45" stroke-dasharray="4.8,4"/>
<path d="M441.00,316.20 L495.40,316.20" fill="none" stroke="#284888" stroke-width="1.75"/>
<path d="M344.60,289.80 L349.40,289.80 L349.40,302.80 L383.80,302.80 L383.80,315.10 L434.90,315.10 L434.90,328.30 L470.20,328.30 L470.20,362.50 L481.80,362.50" fill="none" stroke="#ad002b" stroke-width="1.45" stroke-dasharray="4.8,4"/>
<path d="M344.60,289.80 L402.80,289.80 L402.80,302.80 L417.40,302.80 L417.40,315.10 L434.90,315.10 L434.90,328.30 L492.50,328.30" fill="none" stroke="#4f2069" stroke-width="1.45" stroke-dasharray="4.8,4"/>
<text x="349.90" y="406.50" font-size="7" fill="#52a02a" textLength="60.8" lengthAdjust="spacingAndGlyphs">NCKT and <tspan font-style="italic">TP53WT</tspan></text>
<text x="349.90" y="414.70" font-size="7" fill="#284888" textLength="55.0" lengthAdjust="spacingAndGlyphs">CKT and <tspan font-style="italic">TP53WT</tspan></text>
<text x="349.90" y="423.20" font-size="7" fill="#ad002b" textLength="75.3" lengthAdjust="spacingAndGlyphs">NCKT and <tspan font-style="italic">TP53del/mut</tspan></text>
<text x="349.90" y="431.50" font-size="7" fill="#4f2069" textLength="69.7" lengthAdjust="spacingAndGlyphs">CKT and <tspan font-style="italic">TP53del/mut</tspan></text>
<text x="268.70" y="478.30" font-size="7" fill="#222" textLength="30" lengthAdjust="spacingAndGlyphs">No at risk</text>
<text x="268.70" y="488.80" font-size="7" fill="#52a02a" textLength="61.2" lengthAdjust="spacingAndGlyphs">NCKT and <tspan font-style="italic">TP53WT</tspan></text>
<text x="268.70" y="500.10" font-size="7" fill="#284888" textLength="55.5" lengthAdjust="spacingAndGlyphs">CKT and <tspan font-style="italic">TP53WT</tspan></text>
<text x="268.70" y="511.40" font-size="7" fill="#ad002b" textLength="32.4" lengthAdjust="spacingAndGlyphs">NCKT and</text>
<text x="268.70" y="519.80" font-size="7" fill="#ad002b" textLength="40" lengthAdjust="spacingAndGlyphs"><tspan font-style="italic">TP53del/mut</tspan></text>
<text x="268.70" y="531.40" font-size="7" fill="#4f2069" textLength="26.6" lengthAdjust="spacingAndGlyphs">CKT and</text>
<text x="268.70" y="539.60" font-size="7" fill="#4f2069" textLength="40" lengthAdjust="spacingAndGlyphs"><tspan font-style="italic">TP53del/mut</tspan></text>
<text x="344.90" y="489.20" font-size="7.3" fill="#222" text-anchor="middle">150</text>
<text x="370.80" y="489.20" font-size="7.3" fill="#222" text-anchor="middle">140</text>
<text x="396.70" y="489.20" font-size="7.3" fill="#222" text-anchor="middle">140</text>
<text x="422.60" y="489.20" font-size="7.3" fill="#222" text-anchor="middle">135</text>
<text x="448.50" y="489.20" font-size="7.3" fill="#222" text-anchor="middle">120</text>
<text x="474.40" y="489.20" font-size="7.3" fill="#222" text-anchor="middle">21</text>
<text x="500.30" y="489.20" font-size="7.3" fill="#222" text-anchor="middle">0</text>
<text x="344.90" y="500.40" font-size="7.3" fill="#222" text-anchor="middle">22</text>
<text x="370.80" y="500.40" font-size="7.3" fill="#222" text-anchor="middle">18</text>
<text x="396.70" y="500.40" font-size="7.3" fill="#222" text-anchor="middle">18</text>
<text x="422.60" y="500.40" font-size="7.3" fill="#222" text-anchor="middle">18</text>
<text x="448.50" y="500.40" font-size="7.3" fill="#222" text-anchor="middle">15</text>
<text x="474.40" y="500.40" font-size="7.3" fill="#222" text-anchor="middle">2</text>
<text x="500.30" y="500.40" font-size="7.3" fill="#222" text-anchor="middle">0</text>
<text x="344.90" y="515.90" font-size="7.3" fill="#222" text-anchor="middle">12</text>
<text x="370.80" y="515.90" font-size="7.3" fill="#222" text-anchor="middle">10</text>
<text x="396.70" y="515.90" font-size="7.3" fill="#222" text-anchor="middle">9</text>
<text x="422.60" y="515.90" font-size="7.3" fill="#222" text-anchor="middle">9</text>
<text x="448.50" y="515.90" font-size="7.3" fill="#222" text-anchor="middle">6</text>
<text x="474.40" y="515.90" font-size="7.3" fill="#222" text-anchor="middle">1</text>
<text x="500.30" y="515.90" font-size="7.3" fill="#222" text-anchor="middle">0</text>
<text x="344.90" y="535.50" font-size="7.3" fill="#222" text-anchor="middle">11</text>
<text x="370.80" y="535.50" font-size="7.3" fill="#222" text-anchor="middle">11</text>
<text x="396.70" y="535.50" font-size="7.3" fill="#222" text-anchor="middle">11</text>
<text x="422.60" y="535.50" font-size="7.3" fill="#222" text-anchor="middle">9</text>
<text x="448.50" y="535.50" font-size="7.3" fill="#222" text-anchor="middle">5</text>
<text x="474.40" y="535.50" font-size="7.3" fill="#222" text-anchor="middle">1</text>
<text x="500.30" y="535.50" font-size="7.3" fill="#222" text-anchor="middle">0</text>
<line x1="357.00" y1="288.20" x2="357.00" y2="291.40" stroke="#52a02a" stroke-width="1.1"/>
<line x1="444.00" y1="296.60" x2="444.00" y2="299.80" stroke="#52a02a" stroke-width="1.1"/>
<line x1="446.00" y1="296.60" x2="446.00" y2="299.80" stroke="#52a02a" stroke-width="1.1"/>
<line x1="448.00" y1="296.60" x2="448.00" y2="299.80" stroke="#52a02a" stroke-width="1.1"/>
<line x1="450.00" y1="296.60" x2="450.00" y2="299.80" stroke="#52a02a" stroke-width="1.1"/>
<line x1="452.00" y1="296.60" x2="452.00" y2="299.80" stroke="#52a02a" stroke-width="1.1"/>
<line x1="454.00" y1="296.60" x2="454.00" y2="299.80" stroke="#52a02a" stroke-width="1.1"/>
<line x1="456.00" y1="296.60" x2="456.00" y2="299.80" stroke="#52a02a" stroke-width="1.1"/>
<line x1="460.00" y1="300.10" x2="460.00" y2="303.30" stroke="#52a02a" stroke-width="1.1"/>
<line x1="462.00" y1="300.10" x2="462.00" y2="303.30" stroke="#52a02a" stroke-width="1.1"/>
<line x1="464.00" y1="300.10" x2="464.00" y2="303.30" stroke="#52a02a" stroke-width="1.1"/>
<line x1="470.00" y1="302.40" x2="470.00" y2="305.60" stroke="#52a02a" stroke-width="1.1"/>
<line x1="472.00" y1="302.40" x2="472.00" y2="305.60" stroke="#52a02a" stroke-width="1.1"/>
<line x1="474.00" y1="302.40" x2="474.00" y2="305.60" stroke="#52a02a" stroke-width="1.1"/>
<line x1="478.00" y1="316.60" x2="478.00" y2="319.80" stroke="#52a02a" stroke-width="1.1"/>
<line x1="480.00" y1="316.60" x2="480.00" y2="319.80" stroke="#52a02a" stroke-width="1.1"/>
<line x1="482.00" y1="316.60" x2="482.00" y2="319.80" stroke="#52a02a" stroke-width="1.1"/>
<line x1="484.00" y1="316.60" x2="484.00" y2="319.80" stroke="#52a02a" stroke-width="1.1"/>
<line x1="486.00" y1="316.60" x2="486.00" y2="319.80" stroke="#52a02a" stroke-width="1.1"/>
<line x1="488.00" y1="316.60" x2="488.00" y2="319.80" stroke="#52a02a" stroke-width="1.1"/>
<line x1="490.00" y1="316.60" x2="490.00" y2="319.80" stroke="#52a02a" stroke-width="1.1"/>
<line x1="492.00" y1="316.60" x2="492.00" y2="319.80" stroke="#52a02a" stroke-width="1.1"/>
<line x1="494.00" y1="316.60" x2="494.00" y2="319.80" stroke="#52a02a" stroke-width="1.1"/>
<line x1="357.00" y1="300.70" x2="357.00" y2="303.90" stroke="#284888" stroke-width="1.1"/>
<line x1="417.40" y1="307.80" x2="417.40" y2="311.00" stroke="#284888" stroke-width="1.1"/>
<line x1="443.00" y1="314.60" x2="443.00" y2="317.80" stroke="#284888" stroke-width="1.1"/>
<line x1="445.00" y1="314.60" x2="445.00" y2="317.80" stroke="#284888" stroke-width="1.1"/>
<line x1="448.00" y1="314.60" x2="448.00" y2="317.80" stroke="#284888" stroke-width="1.1"/>
<line x1="451.00" y1="314.60" x2="451.00" y2="317.80" stroke="#284888" stroke-width="1.1"/>
<line x1="453.00" y1="314.60" x2="453.00" y2="317.80" stroke="#284888" stroke-width="1.1"/>
<line x1="456.00" y1="314.60" x2="456.00" y2="317.80" stroke="#284888" stroke-width="1.1"/>
<line x1="458.00" y1="314.60" x2="458.00" y2="317.80" stroke="#284888" stroke-width="1.1"/>
<line x1="461.00" y1="314.60" x2="461.00" y2="317.80" stroke="#284888" stroke-width="1.1"/>
<line x1="466.00" y1="314.60" x2="466.00" y2="317.80" stroke="#284888" stroke-width="1.1"/>
<line x1="470.00" y1="314.60" x2="470.00" y2="317.80" stroke="#284888" stroke-width="1.1"/>
<line x1="472.00" y1="314.60" x2="472.00" y2="317.80" stroke="#284888" stroke-width="1.1"/>
<line x1="477.00" y1="314.60" x2="477.00" y2="317.80" stroke="#284888" stroke-width="1.1"/>
<line x1="480.00" y1="314.60" x2="480.00" y2="317.80" stroke="#284888" stroke-width="1.1"/>
<line x1="484.00" y1="314.60" x2="484.00" y2="317.80" stroke="#284888" stroke-width="1.1"/>
<line x1="487.00" y1="314.60" x2="487.00" y2="317.80" stroke="#284888" stroke-width="1.1"/>
<line x1="490.00" y1="314.60" x2="490.00" y2="317.80" stroke="#284888" stroke-width="1.1"/>
<line x1="493.00" y1="314.60" x2="493.00" y2="317.80" stroke="#284888" stroke-width="1.1"/>
<line x1="443.00" y1="326.70" x2="443.00" y2="329.90" stroke="#ad002b" stroke-width="1.1"/>
<line x1="457.00" y1="326.70" x2="457.00" y2="329.90" stroke="#ad002b" stroke-width="1.1"/>
<line x1="464.60" y1="326.70" x2="464.60" y2="329.90" stroke="#ad002b" stroke-width="1.1"/>
<line x1="481.80" y1="360.90" x2="481.80" y2="364.10" stroke="#ad002b" stroke-width="1.1"/>
<line x1="439.20" y1="326.70" x2="439.20" y2="329.90" stroke="#4f2069" stroke-width="1.1"/>
<line x1="443.80" y1="326.70" x2="443.80" y2="329.90" stroke="#4f2069" stroke-width="1.1"/>
<line x1="448.50" y1="326.70" x2="448.50" y2="329.90" stroke="#4f2069" stroke-width="1.1"/>
<line x1="456.20" y1="326.70" x2="456.20" y2="329.90" stroke="#4f2069" stroke-width="1.1"/>
<line x1="464.60" y1="326.70" x2="464.60" y2="329.90" stroke="#4f2069" stroke-width="1.1"/>
<line x1="469.20" y1="326.70" x2="469.20" y2="329.90" stroke="#4f2069" stroke-width="1.1"/>
<line x1="492.50" y1="326.70" x2="492.50" y2="329.90" stroke="#4f2069" stroke-width="1.1"/>
<line x1="88.5" y1="568.1" x2="88.5" y2="731.0" stroke="#111" stroke-width="1.5"/>
<line x1="87.8" y1="730.2" x2="245.4" y2="730.2" stroke="#111" stroke-width="1.7"/>
<line x1="83.2" y1="575.40" x2="88.5" y2="575.40" stroke="#111" stroke-width="1.3"/>
<text x="79.70" y="578.15" font-size="7.6" fill="#222" text-anchor="end" textLength="9.6" lengthAdjust="spacingAndGlyphs">1,0</text>
<line x1="83.2" y1="604.86" x2="88.5" y2="604.86" stroke="#111" stroke-width="1.3"/>
<text x="79.70" y="607.61" font-size="7.6" fill="#222" text-anchor="end" textLength="9.6" lengthAdjust="spacingAndGlyphs">0,8</text>
<line x1="83.2" y1="634.32" x2="88.5" y2="634.32" stroke="#111" stroke-width="1.3"/>
<text x="79.70" y="637.07" font-size="7.6" fill="#222" text-anchor="end" textLength="9.6" lengthAdjust="spacingAndGlyphs">0,6</text>
<line x1="83.2" y1="663.78" x2="88.5" y2="663.78" stroke="#111" stroke-width="1.3"/>
<text x="79.70" y="666.53" font-size="7.6" fill="#222" text-anchor="end" textLength="9.6" lengthAdjust="spacingAndGlyphs">0,4</text>
<line x1="83.2" y1="693.24" x2="88.5" y2="693.24" stroke="#111" stroke-width="1.3"/>
<text x="79.70" y="695.99" font-size="7.6" fill="#222" text-anchor="end" textLength="9.6" lengthAdjust="spacingAndGlyphs">0,2</text>
<line x1="83.2" y1="722.70" x2="88.5" y2="722.70" stroke="#111" stroke-width="1.3"/>
<text x="79.70" y="725.45" font-size="7.6" fill="#222" text-anchor="end" textLength="9.6" lengthAdjust="spacingAndGlyphs">0,0</text>
<line x1="88.50" y1="730.2" x2="88.50" y2="735.2" stroke="#111" stroke-width="1.3"/>
<text x="88.80" y="745.50" font-size="7.8" fill="#222" text-anchor="middle">0</text>
<line x1="113.43" y1="730.2" x2="113.43" y2="735.2" stroke="#111" stroke-width="1.3"/>
<text x="113.73" y="745.50" font-size="7.8" fill="#222" text-anchor="middle">6</text>
<line x1="138.37" y1="730.2" x2="138.37" y2="735.2" stroke="#111" stroke-width="1.3"/>
<text x="138.67" y="745.50" font-size="7.8" fill="#222" text-anchor="middle">12</text>
<line x1="163.30" y1="730.2" x2="163.30" y2="735.2" stroke="#111" stroke-width="1.3"/>
<text x="163.60" y="745.50" font-size="7.8" fill="#222" text-anchor="middle">18</text>
<line x1="188.23" y1="730.2" x2="188.23" y2="735.2" stroke="#111" stroke-width="1.3"/>
<text x="188.53" y="745.50" font-size="7.8" fill="#222" text-anchor="middle">24</text>
<line x1="213.17" y1="730.2" x2="213.17" y2="735.2" stroke="#111" stroke-width="1.3"/>
<text x="213.47" y="745.50" font-size="7.8" fill="#222" text-anchor="middle">30</text>
<line x1="238.10" y1="730.2" x2="238.10" y2="735.2" stroke="#111" stroke-width="1.3"/>
<text x="238.40" y="745.50" font-size="7.8" fill="#222" text-anchor="middle">36</text>
<text x="119.90" y="758.30" font-size="9.7" fill="#222" textLength="94.4" lengthAdjust="spacingAndGlyphs">Time to event [OS] (months)</text>
<text x="0" y="0" font-size="10" fill="#383838" text-anchor="middle" textLength="43.6" lengthAdjust="spacingAndGlyphs" transform="translate(64.60,649.05) rotate(-90)">Cum survival</text>
<text x="0" y="0" font-size="19.3" font-weight="bold" fill="#000" transform="translate(11.30,568.00) scale(0.95,1)">E</text>
<path d="M88.50,575.40 L110.40,575.40 L110.40,577.20 L115.00,577.20 L115.00,578.30 L131.90,578.30 L131.90,579.10 L167.30,579.10 L167.30,579.50 L176.50,579.50 L176.50,581.10 L178.80,581.10 L178.80,582.20 L181.20,582.20 L181.20,582.90 L195.00,582.90 L195.00,583.80 L231.90,583.80 L231.90,607.20 L235.80,607.20" fill="none" stroke="#52a02a" stroke-width="1.5"/>
<path d="M88.50,575.40 L91.20,575.40 L91.20,580.60 L107.30,580.60 L107.30,585.40 L116.80,585.40 L116.80,590.60 L139.20,590.60 L139.20,595.70 L151.50,595.70 L151.50,600.80 L202.40,600.80 L202.40,608.30 L238.10,608.30" fill="none" stroke="#284888" stroke-width="1.45"/>
<text x="205.90" y="622.90" font-size="7" fill="#52a02a" textLength="18.5" lengthAdjust="spacingAndGlyphs">NCKT</text>
<text x="205.90" y="631.30" font-size="7" fill="#284888" textLength="12.7" lengthAdjust="spacingAndGlyphs">CKT</text>
<text x="44.80" y="769.60" font-size="7" fill="#222" textLength="30.3" lengthAdjust="spacingAndGlyphs">No at risk</text>
<text x="44.80" y="780.50" font-size="7" fill="#52a02a" textLength="18.6" lengthAdjust="spacingAndGlyphs">NCKT</text>
<text x="44.80" y="791.20" font-size="7" fill="#284888" textLength="13.1" lengthAdjust="spacingAndGlyphs">CKT</text>
<text x="88.50" y="780.50" font-size="7.3" fill="#222" text-anchor="middle">167</text>
<text x="113.40" y="780.50" font-size="7.3" fill="#222" text-anchor="middle">163</text>
<text x="138.30" y="780.50" font-size="7.3" fill="#222" text-anchor="middle">161</text>
<text x="163.20" y="780.50" font-size="7.3" fill="#222" text-anchor="middle">160</text>
<text x="188.10" y="780.50" font-size="7.3" fill="#222" text-anchor="middle">153</text>
<text x="213.00" y="780.50" font-size="7.3" fill="#222" text-anchor="middle">60</text>
<text x="237.90" y="780.50" font-size="7.3" fill="#222" text-anchor="middle">0</text>
<text x="88.50" y="791.20" font-size="7.3" fill="#222" text-anchor="middle">30</text>
<text x="113.40" y="791.20" font-size="7.3" fill="#222" text-anchor="middle">28</text>
<text x="138.30" y="791.20" font-size="7.3" fill="#222" text-anchor="middle">25</text>
<text x="163.20" y="791.20" font-size="7.3" fill="#222" text-anchor="middle">23</text>
<text x="188.10" y="791.20" font-size="7.3" fill="#222" text-anchor="middle">22</text>
<text x="213.00" y="791.20" font-size="7.3" fill="#222" text-anchor="middle">9</text>
<text x="237.90" y="791.20" font-size="7.3" fill="#222" text-anchor="middle">0</text>
<line x1="195.50" y1="583.80" x2="231.90" y2="583.80" stroke="#52a02a" stroke-width="2.8"/>
<line x1="187.70" y1="582.90" x2="194.60" y2="582.90" stroke="#52a02a" stroke-width="2.4"/>
<line x1="104.20" y1="573.80" x2="104.20" y2="577.00" stroke="#52a02a" stroke-width="1.1"/>
<line x1="106.20" y1="573.80" x2="106.20" y2="577.00" stroke="#52a02a" stroke-width="1.1"/>
<line x1="107.30" y1="573.80" x2="107.30" y2="577.00" stroke="#52a02a" stroke-width="1.1"/>
<line x1="146.50" y1="577.50" x2="146.50" y2="580.70" stroke="#52a02a" stroke-width="1.1"/>
<line x1="183.00" y1="581.30" x2="183.00" y2="584.50" stroke="#52a02a" stroke-width="1.1"/>
<line x1="185.00" y1="581.30" x2="185.00" y2="584.50" stroke="#52a02a" stroke-width="1.1"/>
<line x1="187.00" y1="581.30" x2="187.00" y2="584.50" stroke="#52a02a" stroke-width="1.1"/>
<line x1="189.00" y1="581.30" x2="189.00" y2="584.50" stroke="#52a02a" stroke-width="1.1"/>
<line x1="191.00" y1="581.30" x2="191.00" y2="584.50" stroke="#52a02a" stroke-width="1.1"/>
<line x1="193.00" y1="581.30" x2="193.00" y2="584.50" stroke="#52a02a" stroke-width="1.1"/>
<line x1="195.00" y1="582.20" x2="195.00" y2="585.40" stroke="#52a02a" stroke-width="1.1"/>
<line x1="196.60" y1="582.20" x2="196.60" y2="585.40" stroke="#52a02a" stroke-width="1.1"/>
<line x1="198.20" y1="582.20" x2="198.20" y2="585.40" stroke="#52a02a" stroke-width="1.1"/>
<line x1="199.80" y1="582.20" x2="199.80" y2="585.40" stroke="#52a02a" stroke-width="1.1"/>
<line x1="201.40" y1="582.20" x2="201.40" y2="585.40" stroke="#52a02a" stroke-width="1.1"/>
<line x1="203.00" y1="582.20" x2="203.00" y2="585.40" stroke="#52a02a" stroke-width="1.1"/>
<line x1="204.60" y1="582.20" x2="204.60" y2="585.40" stroke="#52a02a" stroke-width="1.1"/>
<line x1="206.20" y1="582.20" x2="206.20" y2="585.40" stroke="#52a02a" stroke-width="1.1"/>
<line x1="207.80" y1="582.20" x2="207.80" y2="585.40" stroke="#52a02a" stroke-width="1.1"/>
<line x1="209.40" y1="582.20" x2="209.40" y2="585.40" stroke="#52a02a" stroke-width="1.1"/>
<line x1="211.00" y1="582.20" x2="211.00" y2="585.40" stroke="#52a02a" stroke-width="1.1"/>
<line x1="212.60" y1="582.20" x2="212.60" y2="585.40" stroke="#52a02a" stroke-width="1.1"/>
<line x1="214.20" y1="582.20" x2="214.20" y2="585.40" stroke="#52a02a" stroke-width="1.1"/>
<line x1="215.80" y1="582.20" x2="215.80" y2="585.40" stroke="#52a02a" stroke-width="1.1"/>
<line x1="217.40" y1="582.20" x2="217.40" y2="585.40" stroke="#52a02a" stroke-width="1.1"/>
<line x1="219.00" y1="582.20" x2="219.00" y2="585.40" stroke="#52a02a" stroke-width="1.1"/>
<line x1="220.60" y1="582.20" x2="220.60" y2="585.40" stroke="#52a02a" stroke-width="1.1"/>
<line x1="222.20" y1="582.20" x2="222.20" y2="585.40" stroke="#52a02a" stroke-width="1.1"/>
<line x1="223.80" y1="582.20" x2="223.80" y2="585.40" stroke="#52a02a" stroke-width="1.1"/>
<line x1="225.40" y1="582.20" x2="225.40" y2="585.40" stroke="#52a02a" stroke-width="1.1"/>
<line x1="227.00" y1="582.20" x2="227.00" y2="585.40" stroke="#52a02a" stroke-width="1.1"/>
<line x1="228.60" y1="582.20" x2="228.60" y2="585.40" stroke="#52a02a" stroke-width="1.1"/>
<line x1="230.20" y1="582.20" x2="230.20" y2="585.40" stroke="#52a02a" stroke-width="1.1"/>
<line x1="131.60" y1="589.00" x2="131.60" y2="592.20" stroke="#284888" stroke-width="1.1"/>
<line x1="184.20" y1="599.20" x2="184.20" y2="602.40" stroke="#284888" stroke-width="1.1"/>
<line x1="188.10" y1="599.20" x2="188.10" y2="602.40" stroke="#284888" stroke-width="1.1"/>
<line x1="195.00" y1="599.20" x2="195.00" y2="602.40" stroke="#284888" stroke-width="1.1"/>
<line x1="198.10" y1="599.20" x2="198.10" y2="602.40" stroke="#284888" stroke-width="1.1"/>
<line x1="199.60" y1="599.20" x2="199.60" y2="602.40" stroke="#284888" stroke-width="1.1"/>
<line x1="201.20" y1="599.20" x2="201.20" y2="602.40" stroke="#284888" stroke-width="1.1"/>
<line x1="203.50" y1="606.70" x2="203.50" y2="609.90" stroke="#284888" stroke-width="1.1"/>
<line x1="206.20" y1="606.70" x2="206.20" y2="609.90" stroke="#284888" stroke-width="1.1"/>
<line x1="209.60" y1="606.70" x2="209.60" y2="609.90" stroke="#284888" stroke-width="1.1"/>
<line x1="218.10" y1="606.70" x2="218.10" y2="609.90" stroke="#284888" stroke-width="1.1"/>
<line x1="222.70" y1="606.70" x2="222.70" y2="609.90" stroke="#284888" stroke-width="1.1"/>
<line x1="223.50" y1="606.70" x2="223.50" y2="609.90" stroke="#284888" stroke-width="1.1"/>
<line x1="226.50" y1="606.70" x2="226.50" y2="609.90" stroke="#284888" stroke-width="1.1"/>
<line x1="228.80" y1="606.70" x2="228.80" y2="609.90" stroke="#284888" stroke-width="1.1"/>
<line x1="231.90" y1="606.70" x2="231.90" y2="609.90" stroke="#284888" stroke-width="1.1"/>
<line x1="238.10" y1="606.70" x2="238.10" y2="609.90" stroke="#284888" stroke-width="1.1"/>
<line x1="344.5" y1="568.3" x2="344.5" y2="731.0" stroke="#111" stroke-width="1.5"/>
<line x1="343.8" y1="730.2" x2="501" y2="730.2" stroke="#111" stroke-width="1.7"/>
<line x1="339.2" y1="575.80" x2="344.5" y2="575.80" stroke="#111" stroke-width="1.3"/>
<text x="335.70" y="578.55" font-size="7.6" fill="#222" text-anchor="end" textLength="9.6" lengthAdjust="spacingAndGlyphs">1,0</text>
<line x1="339.2" y1="605.18" x2="344.5" y2="605.18" stroke="#111" stroke-width="1.3"/>
<text x="335.70" y="607.93" font-size="7.6" fill="#222" text-anchor="end" textLength="9.6" lengthAdjust="spacingAndGlyphs">0,8</text>
<line x1="339.2" y1="634.56" x2="344.5" y2="634.56" stroke="#111" stroke-width="1.3"/>
<text x="335.70" y="637.31" font-size="7.6" fill="#222" text-anchor="end" textLength="9.6" lengthAdjust="spacingAndGlyphs">0,6</text>
<line x1="339.2" y1="663.94" x2="344.5" y2="663.94" stroke="#111" stroke-width="1.3"/>
<text x="335.70" y="666.69" font-size="7.6" fill="#222" text-anchor="end" textLength="9.6" lengthAdjust="spacingAndGlyphs">0,4</text>
<line x1="339.2" y1="693.32" x2="344.5" y2="693.32" stroke="#111" stroke-width="1.3"/>
<text x="335.70" y="696.07" font-size="7.6" fill="#222" text-anchor="end" textLength="9.6" lengthAdjust="spacingAndGlyphs">0,2</text>
<line x1="339.2" y1="722.70" x2="344.5" y2="722.70" stroke="#111" stroke-width="1.3"/>
<text x="335.70" y="725.45" font-size="7.6" fill="#222" text-anchor="end" textLength="9.6" lengthAdjust="spacingAndGlyphs">0,0</text>
<line x1="344.50" y1="730.2" x2="344.50" y2="735.2" stroke="#111" stroke-width="1.3"/>
<text x="344.80" y="745.50" font-size="7.8" fill="#222" text-anchor="middle">0</text>
<line x1="369.37" y1="730.2" x2="369.37" y2="735.2" stroke="#111" stroke-width="1.3"/>
<text x="369.67" y="745.50" font-size="7.8" fill="#222" text-anchor="middle">6</text>
<line x1="394.23" y1="730.2" x2="394.23" y2="735.2" stroke="#111" stroke-width="1.3"/>
<text x="394.53" y="745.50" font-size="7.8" fill="#222" text-anchor="middle">12</text>
<line x1="419.10" y1="730.2" x2="419.10" y2="735.2" stroke="#111" stroke-width="1.3"/>
<text x="419.40" y="745.50" font-size="7.8" fill="#222" text-anchor="middle">18</text>
<line x1="443.97" y1="730.2" x2="443.97" y2="735.2" stroke="#111" stroke-width="1.3"/>
<text x="444.27" y="745.50" font-size="7.8" fill="#222" text-anchor="middle">24</text>
<line x1="468.83" y1="730.2" x2="468.83" y2="735.2" stroke="#111" stroke-width="1.3"/>
<text x="469.13" y="745.50" font-size="7.8" fill="#222" text-anchor="middle">30</text>
<line x1="493.70" y1="730.2" x2="493.70" y2="735.2" stroke="#111" stroke-width="1.3"/>
<text x="494.00" y="745.50" font-size="7.8" fill="#222" text-anchor="middle">36</text>
<text x="375.90" y="758.30" font-size="9.7" fill="#222" textLength="94.1" lengthAdjust="spacingAndGlyphs">Time to event [OS] (months)</text>
<text x="0" y="0" font-size="10" fill="#383838" text-anchor="middle" textLength="43.6" lengthAdjust="spacingAndGlyphs" transform="translate(320.60,649.25) rotate(-90)">Cum survival</text>
<text x="0" y="0" font-size="19.3" font-weight="bold" fill="#000" transform="translate(268.00,568.00) scale(0.97,1)">F</text>
<path d="M344.50,575.80 L348.90,575.80 L348.90,576.90 L360.50,576.90 L360.50,578.00 L366.60,578.00 L366.60,579.10 L383.50,579.10 L383.50,581.10 L400.50,581.10 L400.50,581.80 L408.20,581.80 L408.20,582.90 L415.80,582.90 L415.80,584.20 L433.80,584.20 L433.80,584.90 L440.00,584.90 L440.00,586.20 L461.50,586.20 L461.50,587.20 L463.80,587.20 L463.80,587.70 L470.80,587.70 L470.80,592.20 L491.50,592.20" fill="none" stroke="#52a02a" stroke-width="1.5" stroke-dasharray="4.8,4"/>
<path d="M439.00,584.90 L440.00,584.90 L440.00,584.90 L440.00,586.20 L440.00,586.20 L461.50,586.20 L461.50,586.20 L461.50,587.20 L461.50,587.20 L463.80,587.20 L463.80,587.20 L463.80,587.70 L463.80,587.70 L470.80,587.70 L470.80,587.70 L470.80,592.20 L470.80,592.20 L491.50,592.20" fill="none" stroke="#52a02a" stroke-width="1.8"/>
<path d="M344.50,575.80 L350.90,575.80 L350.90,580.30 L365.10,580.30 L365.10,584.50 L378.20,584.50 L378.20,589.10 L407.40,589.10 L407.40,593.10 L487.70,593.10" fill="none" stroke="#284888" stroke-width="1.45" stroke-dasharray="4.8,4"/>
<path d="M439.00,593.10 L487.70,593.10" fill="none" stroke="#284888" stroke-width="1.75"/>
<text x="447.90" y="622.90" font-size="7" fill="#52a02a" textLength="18.8" lengthAdjust="spacingAndGlyphs">NCKT</text>
<text x="447.90" y="631.30" font-size="7" fill="#284888" textLength="13.3" lengthAdjust="spacingAndGlyphs">CKT</text>
<text x="301.70" y="769.60" font-size="7" fill="#222" textLength="30.3" lengthAdjust="spacingAndGlyphs">No at risk</text>
<text x="301.70" y="780.50" font-size="7" fill="#52a02a" textLength="18.6" lengthAdjust="spacingAndGlyphs">NCKT</text>
<text x="301.70" y="791.20" font-size="7" fill="#284888" textLength="13.1" lengthAdjust="spacingAndGlyphs">CKT</text>
<text x="345.20" y="780.50" font-size="7.3" fill="#222" text-anchor="middle">166</text>
<text x="370.05" y="780.50" font-size="7.3" fill="#222" text-anchor="middle">158</text>
<text x="394.90" y="780.50" font-size="7.3" fill="#222" text-anchor="middle">156</text>
<text x="419.75" y="780.50" font-size="7.3" fill="#222" text-anchor="middle">152</text>
<text x="444.60" y="780.50" font-size="7.3" fill="#222" text-anchor="middle">144</text>
<text x="469.45" y="780.50" font-size="7.3" fill="#222" text-anchor="middle">60</text>
<text x="494.30" y="780.50" font-size="7.3" fill="#222" text-anchor="middle">0</text>
<text x="345.20" y="791.20" font-size="7.3" fill="#222" text-anchor="middle">34</text>
<text x="370.05" y="791.20" font-size="7.3" fill="#222" text-anchor="middle">32</text>
<text x="394.90" y="791.20" font-size="7.3" fill="#222" text-anchor="middle">31</text>
<text x="419.75" y="791.20" font-size="7.3" fill="#222" text-anchor="middle">30</text>
<text x="444.60" y="791.20" font-size="7.3" fill="#222" text-anchor="middle">29</text>
<text x="469.45" y="791.20" font-size="7.3" fill="#222" text-anchor="middle">8</text>
<text x="494.30" y="791.20" font-size="7.3" fill="#222" text-anchor="middle">0</text>
<line x1="347.00" y1="574.20" x2="347.00" y2="577.40" stroke="#52a02a" stroke-width="1.1"/>
<line x1="349.00" y1="575.30" x2="349.00" y2="578.50" stroke="#52a02a" stroke-width="1.1"/>
<line x1="362.00" y1="576.40" x2="362.00" y2="579.60" stroke="#52a02a" stroke-width="1.1"/>
<line x1="364.00" y1="576.40" x2="364.00" y2="579.60" stroke="#52a02a" stroke-width="1.1"/>
<line x1="441.00" y1="584.60" x2="441.00" y2="587.80" stroke="#52a02a" stroke-width="1.1"/>
<line x1="442.60" y1="584.60" x2="442.60" y2="587.80" stroke="#52a02a" stroke-width="1.1"/>
<line x1="444.20" y1="584.60" x2="444.20" y2="587.80" stroke="#52a02a" stroke-width="1.1"/>
<line x1="445.80" y1="584.60" x2="445.80" y2="587.80" stroke="#52a02a" stroke-width="1.1"/>
<line x1="447.40" y1="584.60" x2="447.40" y2="587.80" stroke="#52a02a" stroke-width="1.1"/>
<line x1="449.00" y1="584.60" x2="449.00" y2="587.80" stroke="#52a02a" stroke-width="1.1"/>
<line x1="450.60" y1="584.60" x2="450.60" y2="587.80" stroke="#52a02a" stroke-width="1.1"/>
<line x1="452.20" y1="584.60" x2="452.20" y2="587.80" stroke="#52a02a" stroke-width="1.1"/>
<line x1="453.80" y1="584.60" x2="453.80" y2="587.80" stroke="#52a02a" stroke-width="1.1"/>
<line x1="455.40" y1="584.60" x2="455.40" y2="587.80" stroke="#52a02a" stroke-width="1.1"/>
<line x1="457.00" y1="584.60" x2="457.00" y2="587.80" stroke="#52a02a" stroke-width="1.1"/>
<line x1="458.60" y1="584.60" x2="458.60" y2="587.80" stroke="#52a02a" stroke-width="1.1"/>
<line x1="460.20" y1="584.60" x2="460.20" y2="587.80" stroke="#52a02a" stroke-width="1.1"/>
<line x1="461.80" y1="585.60" x2="461.80" y2="588.80" stroke="#52a02a" stroke-width="1.1"/>
<line x1="463.40" y1="585.60" x2="463.40" y2="588.80" stroke="#52a02a" stroke-width="1.1"/>
<line x1="465.00" y1="586.10" x2="465.00" y2="589.30" stroke="#52a02a" stroke-width="1.1"/>
<line x1="466.60" y1="586.10" x2="466.60" y2="589.30" stroke="#52a02a" stroke-width="1.1"/>
<line x1="468.20" y1="586.10" x2="468.20" y2="589.30" stroke="#52a02a" stroke-width="1.1"/>
<line x1="469.80" y1="586.10" x2="469.80" y2="589.30" stroke="#52a02a" stroke-width="1.1"/>
<line x1="472.00" y1="590.60" x2="472.00" y2="593.80" stroke="#52a02a" stroke-width="1.1"/>
<line x1="473.80" y1="590.60" x2="473.80" y2="593.80" stroke="#52a02a" stroke-width="1.1"/>
<line x1="475.60" y1="590.60" x2="475.60" y2="593.80" stroke="#52a02a" stroke-width="1.1"/>
<line x1="477.40" y1="590.60" x2="477.40" y2="593.80" stroke="#52a02a" stroke-width="1.1"/>
<line x1="479.20" y1="590.60" x2="479.20" y2="593.80" stroke="#52a02a" stroke-width="1.1"/>
<line x1="481.00" y1="590.60" x2="481.00" y2="593.80" stroke="#52a02a" stroke-width="1.1"/>
<line x1="482.80" y1="590.60" x2="482.80" y2="593.80" stroke="#52a02a" stroke-width="1.1"/>
<line x1="484.60" y1="590.60" x2="484.60" y2="593.80" stroke="#52a02a" stroke-width="1.1"/>
<line x1="486.40" y1="590.60" x2="486.40" y2="593.80" stroke="#52a02a" stroke-width="1.1"/>
<line x1="488.20" y1="590.60" x2="488.20" y2="593.80" stroke="#52a02a" stroke-width="1.1"/>
<line x1="490.00" y1="590.60" x2="490.00" y2="593.80" stroke="#52a02a" stroke-width="1.1"/>
<line x1="440.00" y1="591.50" x2="440.00" y2="594.70" stroke="#284888" stroke-width="1.1"/>
<line x1="442.00" y1="591.50" x2="442.00" y2="594.70" stroke="#284888" stroke-width="1.1"/>
<line x1="445.00" y1="591.50" x2="445.00" y2="594.70" stroke="#284888" stroke-width="1.1"/>
<line x1="447.00" y1="591.50" x2="447.00" y2="594.70" stroke="#284888" stroke-width="1.1"/>
<line x1="449.00" y1="591.50" x2="449.00" y2="594.70" stroke="#284888" stroke-width="1.1"/>
<line x1="451.00" y1="591.50" x2="451.00" y2="594.70" stroke="#284888" stroke-width="1.1"/>
<line x1="454.00" y1="591.50" x2="454.00" y2="594.70" stroke="#284888" stroke-width="1.1"/>
<line x1="457.00" y1="591.50" x2="457.00" y2="594.70" stroke="#284888" stroke-width="1.1"/>
<line x1="460.00" y1="591.50" x2="460.00" y2="594.70" stroke="#284888" stroke-width="1.1"/>
<line x1="462.00" y1="591.50" x2="462.00" y2="594.70" stroke="#284888" stroke-width="1.1"/>
<line x1="465.00" y1="591.50" x2="465.00" y2="594.70" stroke="#284888" stroke-width="1.1"/>
<line x1="468.00" y1="591.50" x2="468.00" y2="594.70" stroke="#284888" stroke-width="1.1"/>
<line x1="470.00" y1="591.50" x2="470.00" y2="594.70" stroke="#284888" stroke-width="1.1"/>
<line x1="473.00" y1="591.50" x2="473.00" y2="594.70" stroke="#284888" stroke-width="1.1"/>
<line x1="476.00" y1="591.50" x2="476.00" y2="594.70" stroke="#284888" stroke-width="1.1"/>
<line x1="480.00" y1="591.50" x2="480.00" y2="594.70" stroke="#284888" stroke-width="1.1"/>
<line x1="483.00" y1="591.50" x2="483.00" y2="594.70" stroke="#284888" stroke-width="1.1"/>
<line x1="487.70" y1="591.50" x2="487.70" y2="594.70" stroke="#284888" stroke-width="1.1"/>
<line x1="88.5" y1="819.5" x2="88.5" y2="989.4" stroke="#111" stroke-width="1.5"/>
<line x1="87.8" y1="988.6" x2="245.7" y2="988.6" stroke="#111" stroke-width="1.7"/>
<line x1="83.2" y1="827.20" x2="88.5" y2="827.20" stroke="#111" stroke-width="1.3"/>
<text x="79.70" y="829.95" font-size="7.6" fill="#222" text-anchor="end" textLength="9.6" lengthAdjust="spacingAndGlyphs">1,0</text>
<line x1="83.2" y1="857.78" x2="88.5" y2="857.78" stroke="#111" stroke-width="1.3"/>
<text x="79.70" y="860.53" font-size="7.6" fill="#222" text-anchor="end" textLength="9.6" lengthAdjust="spacingAndGlyphs">0,8</text>
<line x1="83.2" y1="888.36" x2="88.5" y2="888.36" stroke="#111" stroke-width="1.3"/>
<text x="79.70" y="891.11" font-size="7.6" fill="#222" text-anchor="end" textLength="9.6" lengthAdjust="spacingAndGlyphs">0,6</text>
<line x1="83.2" y1="918.94" x2="88.5" y2="918.94" stroke="#111" stroke-width="1.3"/>
<text x="79.70" y="921.69" font-size="7.6" fill="#222" text-anchor="end" textLength="9.6" lengthAdjust="spacingAndGlyphs">0,4</text>
<line x1="83.2" y1="949.52" x2="88.5" y2="949.52" stroke="#111" stroke-width="1.3"/>
<text x="79.70" y="952.27" font-size="7.6" fill="#222" text-anchor="end" textLength="9.6" lengthAdjust="spacingAndGlyphs">0,2</text>
<line x1="83.2" y1="980.10" x2="88.5" y2="980.10" stroke="#111" stroke-width="1.3"/>
<text x="79.70" y="982.85" font-size="7.6" fill="#222" text-anchor="end" textLength="9.6" lengthAdjust="spacingAndGlyphs">0,0</text>
<line x1="88.50" y1="988.6" x2="88.50" y2="993.6" stroke="#111" stroke-width="1.3"/>
<text x="88.80" y="1003.90" font-size="7.8" fill="#222" text-anchor="middle">0</text>
<line x1="113.42" y1="988.6" x2="113.42" y2="993.6" stroke="#111" stroke-width="1.3"/>
<text x="113.72" y="1003.90" font-size="7.8" fill="#222" text-anchor="middle">6</text>
<line x1="138.33" y1="988.6" x2="138.33" y2="993.6" stroke="#111" stroke-width="1.3"/>
<text x="138.63" y="1003.90" font-size="7.8" fill="#222" text-anchor="middle">12</text>
<line x1="163.25" y1="988.6" x2="163.25" y2="993.6" stroke="#111" stroke-width="1.3"/>
<text x="163.55" y="1003.90" font-size="7.8" fill="#222" text-anchor="middle">18</text>
<line x1="188.17" y1="988.6" x2="188.17" y2="993.6" stroke="#111" stroke-width="1.3"/>
<text x="188.47" y="1003.90" font-size="7.8" fill="#222" text-anchor="middle">24</text>
<line x1="213.08" y1="988.6" x2="213.08" y2="993.6" stroke="#111" stroke-width="1.3"/>
<text x="213.38" y="1003.90" font-size="7.8" fill="#222" text-anchor="middle">30</text>
<line x1="238.00" y1="988.6" x2="238.00" y2="993.6" stroke="#111" stroke-width="1.3"/>
<text x="238.30" y="1003.90" font-size="7.8" fill="#222" text-anchor="middle">36</text>
<text x="120.20" y="1016.70" font-size="9.7" fill="#222" textLength="94.4" lengthAdjust="spacingAndGlyphs">Time to event [OS] (months)</text>
<text x="0" y="0" font-size="10" fill="#383838" text-anchor="middle" textLength="43.6" lengthAdjust="spacingAndGlyphs" transform="translate(64.60,903.65) rotate(-90)">Cum survival</text>
<text x="0" y="0" font-size="19.3" font-weight="bold" fill="#000" transform="translate(11.10,819.60) scale(1.04,1)">G</text>
<path d="M88.50,827.20 L110.40,827.20 L110.40,828.00 L115.00,828.00 L115.00,828.80 L131.60,828.80 L131.60,830.30 L166.50,830.30 L166.50,831.10 L176.50,831.10 L176.50,832.60 L179.60,832.60 L179.60,833.50 L181.90,833.50 L181.90,834.60 L195.00,834.60 L195.00,835.80 L231.90,835.80 L231.90,864.90 L234.20,864.90" fill="none" stroke="#52a02a" stroke-width="1.5"/>
<path d="M88.50,827.20 L91.20,827.20 L91.20,844.20 L107.30,844.20 L107.30,861.20 L117.30,861.20 L117.30,878.50 L139.30,878.50 L139.30,895.20 L151.50,895.20 L151.50,912.20 L203.00,912.20 L203.00,935.00 L238.00,935.00" fill="none" stroke="#4f2069" stroke-width="1.45"/>
<path d="M88.50,827.20 L232.70,827.20" fill="none" stroke="#284888" stroke-width="1.45"/>
<path d="M88.50,827.20 L226.00,827.20" fill="none" stroke="#ad002b" stroke-width="1.45"/>
<text x="93.60" y="956.20" font-size="7" fill="#52a02a" textLength="60.8" lengthAdjust="spacingAndGlyphs">NCKT and <tspan font-style="italic">TP53WT</tspan></text>
<text x="93.60" y="964.90" font-size="7" fill="#284888" textLength="55.0" lengthAdjust="spacingAndGlyphs">CKT and <tspan font-style="italic">TP53WT</tspan></text>
<text x="93.60" y="973.40" font-size="7" fill="#ad002b" textLength="75.3" lengthAdjust="spacingAndGlyphs">NCKT and <tspan font-style="italic">TP53del/mut</tspan></text>
<text x="93.60" y="981.70" font-size="7" fill="#4f2069" textLength="69.7" lengthAdjust="spacingAndGlyphs">CKT and <tspan font-style="italic">TP53del/mut</tspan></text>
<text x="12.70" y="1028.10" font-size="7" fill="#222" textLength="30" lengthAdjust="spacingAndGlyphs">No at risk</text>
<text x="11.50" y="1038.80" font-size="7" fill="#52a02a" textLength="61.2" lengthAdjust="spacingAndGlyphs">NCKT and <tspan font-style="italic">TP53WT</tspan></text>
<text x="11.50" y="1049.90" font-size="7" fill="#284888" textLength="55.5" lengthAdjust="spacingAndGlyphs">CKT and <tspan font-style="italic">TP53WT</tspan></text>
<text x="11.50" y="1061.20" font-size="7" fill="#ad002b" textLength="32.4" lengthAdjust="spacingAndGlyphs">NCKT and</text>
<text x="11.50" y="1069.80" font-size="7" fill="#ad002b" textLength="40" lengthAdjust="spacingAndGlyphs"><tspan font-style="italic">TP53del/mut</tspan></text>
<text x="11.50" y="1081.30" font-size="7" fill="#4f2069" textLength="26.6" lengthAdjust="spacingAndGlyphs">CKT and</text>
<text x="11.50" y="1089.50" font-size="7" fill="#4f2069" textLength="40" lengthAdjust="spacingAndGlyphs"><tspan font-style="italic">TP53del/mut</tspan></text>
<text x="88.50" y="1038.80" font-size="7.3" fill="#222" text-anchor="middle">150</text>
<text x="113.40" y="1038.80" font-size="7.3" fill="#222" text-anchor="middle">147</text>
<text x="138.30" y="1038.80" font-size="7.3" fill="#222" text-anchor="middle">145</text>
<text x="163.20" y="1038.80" font-size="7.3" fill="#222" text-anchor="middle">144</text>
<text x="188.10" y="1038.80" font-size="7.3" fill="#222" text-anchor="middle">137</text>
<text x="213.00" y="1038.80" font-size="7.3" fill="#222" text-anchor="middle">53</text>
<text x="237.90" y="1038.80" font-size="7.3" fill="#222" text-anchor="middle">0</text>
<text x="88.50" y="1049.90" font-size="7.3" fill="#222" text-anchor="middle">20</text>
<text x="113.40" y="1049.90" font-size="7.3" fill="#222" text-anchor="middle">20</text>
<text x="138.30" y="1049.90" font-size="7.3" fill="#222" text-anchor="middle">18</text>
<text x="163.20" y="1049.90" font-size="7.3" fill="#222" text-anchor="middle">18</text>
<text x="188.10" y="1049.90" font-size="7.3" fill="#222" text-anchor="middle">17</text>
<text x="213.00" y="1049.90" font-size="7.3" fill="#222" text-anchor="middle">7</text>
<text x="237.90" y="1049.90" font-size="7.3" fill="#222" text-anchor="middle">0</text>
<text x="88.50" y="1065.80" font-size="7.3" fill="#222" text-anchor="middle">13</text>
<text x="113.40" y="1065.80" font-size="7.3" fill="#222" text-anchor="middle">13</text>
<text x="138.30" y="1065.80" font-size="7.3" fill="#222" text-anchor="middle">13</text>
<text x="163.20" y="1065.80" font-size="7.3" fill="#222" text-anchor="middle">13</text>
<text x="188.10" y="1065.80" font-size="7.3" fill="#222" text-anchor="middle">13</text>
<text x="213.00" y="1065.80" font-size="7.3" fill="#222" text-anchor="middle">5</text>
<text x="237.90" y="1065.80" font-size="7.3" fill="#222" text-anchor="middle">0</text>
<text x="88.50" y="1085.40" font-size="7.3" fill="#222" text-anchor="middle">9</text>
<text x="113.40" y="1085.40" font-size="7.3" fill="#222" text-anchor="middle">7</text>
<text x="138.30" y="1085.40" font-size="7.3" fill="#222" text-anchor="middle">6</text>
<text x="163.20" y="1085.40" font-size="7.3" fill="#222" text-anchor="middle">4</text>
<text x="188.10" y="1085.40" font-size="7.3" fill="#222" text-anchor="middle">4</text>
<text x="213.00" y="1085.40" font-size="7.3" fill="#222" text-anchor="middle">2</text>
<text x="237.90" y="1085.40" font-size="7.3" fill="#222" text-anchor="middle">0</text>
<line x1="195.50" y1="835.80" x2="231.90" y2="835.80" stroke="#52a02a" stroke-width="2.8"/>
<line x1="183.00" y1="834.60" x2="194.00" y2="834.60" stroke="#52a02a" stroke-width="2.4"/>
<line x1="104.20" y1="825.60" x2="104.20" y2="828.80" stroke="#52a02a" stroke-width="1.1"/>
<line x1="106.50" y1="825.60" x2="106.50" y2="828.80" stroke="#52a02a" stroke-width="1.1"/>
<line x1="146.50" y1="828.70" x2="146.50" y2="831.90" stroke="#52a02a" stroke-width="1.1"/>
<line x1="183.00" y1="833.00" x2="183.00" y2="836.20" stroke="#52a02a" stroke-width="1.1"/>
<line x1="185.00" y1="833.00" x2="185.00" y2="836.20" stroke="#52a02a" stroke-width="1.1"/>
<line x1="187.00" y1="833.00" x2="187.00" y2="836.20" stroke="#52a02a" stroke-width="1.1"/>
<line x1="189.00" y1="833.00" x2="189.00" y2="836.20" stroke="#52a02a" stroke-width="1.1"/>
<line x1="191.00" y1="833.00" x2="191.00" y2="836.20" stroke="#52a02a" stroke-width="1.1"/>
<line x1="193.00" y1="833.00" x2="193.00" y2="836.20" stroke="#52a02a" stroke-width="1.1"/>
<line x1="195.00" y1="834.20" x2="195.00" y2="837.40" stroke="#52a02a" stroke-width="1.1"/>
<line x1="196.60" y1="834.20" x2="196.60" y2="837.40" stroke="#52a02a" stroke-width="1.1"/>
<line x1="198.20" y1="834.20" x2="198.20" y2="837.40" stroke="#52a02a" stroke-width="1.1"/>
<line x1="199.80" y1="834.20" x2="199.80" y2="837.40" stroke="#52a02a" stroke-width="1.1"/>
<line x1="201.40" y1="834.20" x2="201.40" y2="837.40" stroke="#52a02a" stroke-width="1.1"/>
<line x1="203.00" y1="834.20" x2="203.00" y2="837.40" stroke="#52a02a" stroke-width="1.1"/>
<line x1="204.60" y1="834.20" x2="204.60" y2="837.40" stroke="#52a02a" stroke-width="1.1"/>
<line x1="206.20" y1="834.20" x2="206.20" y2="837.40" stroke="#52a02a" stroke-width="1.1"/>
<line x1="207.80" y1="834.20" x2="207.80" y2="837.40" stroke="#52a02a" stroke-width="1.1"/>
<line x1="209.40" y1="834.20" x2="209.40" y2="837.40" stroke="#52a02a" stroke-width="1.1"/>
<line x1="211.00" y1="834.20" x2="211.00" y2="837.40" stroke="#52a02a" stroke-width="1.1"/>
<line x1="212.60" y1="834.20" x2="212.60" y2="837.40" stroke="#52a02a" stroke-width="1.1"/>
<line x1="214.20" y1="834.20" x2="214.20" y2="837.40" stroke="#52a02a" stroke-width="1.1"/>
<line x1="215.80" y1="834.20" x2="215.80" y2="837.40" stroke="#52a02a" stroke-width="1.1"/>
<line x1="217.40" y1="834.20" x2="217.40" y2="837.40" stroke="#52a02a" stroke-width="1.1"/>
<line x1="219.00" y1="834.20" x2="219.00" y2="837.40" stroke="#52a02a" stroke-width="1.1"/>
<line x1="220.60" y1="834.20" x2="220.60" y2="837.40" stroke="#52a02a" stroke-width="1.1"/>
<line x1="222.20" y1="834.20" x2="222.20" y2="837.40" stroke="#52a02a" stroke-width="1.1"/>
<line x1="223.80" y1="834.20" x2="223.80" y2="837.40" stroke="#52a02a" stroke-width="1.1"/>
<line x1="225.40" y1="834.20" x2="225.40" y2="837.40" stroke="#52a02a" stroke-width="1.1"/>
<line x1="227.00" y1="834.20" x2="227.00" y2="837.40" stroke="#52a02a" stroke-width="1.1"/>
<line x1="228.60" y1="834.20" x2="228.60" y2="837.40" stroke="#52a02a" stroke-width="1.1"/>
<line x1="230.20" y1="834.20" x2="230.20" y2="837.40" stroke="#52a02a" stroke-width="1.1"/>
<line x1="200.00" y1="910.60" x2="200.00" y2="913.80" stroke="#4f2069" stroke-width="1.1"/>
<line x1="227.40" y1="933.40" x2="227.40" y2="936.60" stroke="#4f2069" stroke-width="1.1"/>
<line x1="238.00" y1="933.40" x2="238.00" y2="936.60" stroke="#4f2069" stroke-width="1.1"/>
<line x1="116.20" y1="825.60" x2="116.20" y2="828.80" stroke="#284888" stroke-width="1.1"/>
<line x1="131.60" y1="825.60" x2="131.60" y2="828.80" stroke="#284888" stroke-width="1.1"/>
<line x1="184.40" y1="825.60" x2="184.40" y2="828.80" stroke="#284888" stroke-width="1.1"/>
<line x1="198.00" y1="825.60" x2="198.00" y2="828.80" stroke="#284888" stroke-width="1.1"/>
<line x1="206.00" y1="825.60" x2="206.00" y2="828.80" stroke="#284888" stroke-width="1.1"/>
<line x1="209.00" y1="825.60" x2="209.00" y2="828.80" stroke="#284888" stroke-width="1.1"/>
<line x1="216.00" y1="825.60" x2="216.00" y2="828.80" stroke="#284888" stroke-width="1.1"/>
<line x1="218.00" y1="825.60" x2="218.00" y2="828.80" stroke="#284888" stroke-width="1.1"/>
<line x1="227.00" y1="825.60" x2="227.00" y2="828.80" stroke="#284888" stroke-width="1.1"/>
<line x1="229.40" y1="825.60" x2="229.40" y2="828.80" stroke="#284888" stroke-width="1.1"/>
<line x1="232.50" y1="825.60" x2="232.50" y2="828.80" stroke="#284888" stroke-width="1.1"/>
<line x1="188.00" y1="827.20" x2="194.00" y2="827.20" stroke="#ad002b" stroke-width="2.6"/>
<line x1="212.00" y1="827.20" x2="215.50" y2="827.20" stroke="#ad002b" stroke-width="2.6"/>
<line x1="219.00" y1="827.20" x2="224.50" y2="827.20" stroke="#ad002b" stroke-width="2.6"/>
<line x1="188.00" y1="825.60" x2="188.00" y2="828.80" stroke="#ad002b" stroke-width="1.1"/>
<line x1="190.00" y1="825.60" x2="190.00" y2="828.80" stroke="#ad002b" stroke-width="1.1"/>
<line x1="192.00" y1="825.60" x2="192.00" y2="828.80" stroke="#ad002b" stroke-width="1.1"/>
<line x1="194.00" y1="825.60" x2="194.00" y2="828.80" stroke="#ad002b" stroke-width="1.1"/>
<line x1="204.40" y1="825.60" x2="204.40" y2="828.80" stroke="#ad002b" stroke-width="1.1"/>
<line x1="212.50" y1="825.60" x2="212.50" y2="828.80" stroke="#ad002b" stroke-width="1.1"/>
<line x1="214.00" y1="825.60" x2="214.00" y2="828.80" stroke="#ad002b" stroke-width="1.1"/>
<line x1="215.00" y1="825.60" x2="215.00" y2="828.80" stroke="#ad002b" stroke-width="1.1"/>
<line x1="219.50" y1="825.60" x2="219.50" y2="828.80" stroke="#ad002b" stroke-width="1.1"/>
<line x1="221.00" y1="825.60" x2="221.00" y2="828.80" stroke="#ad002b" stroke-width="1.1"/>
<line x1="222.50" y1="825.60" x2="222.50" y2="828.80" stroke="#ad002b" stroke-width="1.1"/>
<line x1="224.00" y1="825.60" x2="224.00" y2="828.80" stroke="#ad002b" stroke-width="1.1"/>
<line x1="344.5" y1="823.1" x2="344.5" y2="989.4" stroke="#111" stroke-width="1.5"/>
<line x1="343.8" y1="988.6" x2="501.7" y2="988.6" stroke="#111" stroke-width="1.7"/>
<line x1="339.2" y1="830.30" x2="344.5" y2="830.30" stroke="#111" stroke-width="1.3"/>
<text x="335.70" y="833.05" font-size="7.6" fill="#222" text-anchor="end" textLength="9.6" lengthAdjust="spacingAndGlyphs">1,0</text>
<line x1="339.2" y1="860.40" x2="344.5" y2="860.40" stroke="#111" stroke-width="1.3"/>
<text x="335.70" y="863.15" font-size="7.6" fill="#222" text-anchor="end" textLength="9.6" lengthAdjust="spacingAndGlyphs">0,8</text>
<line x1="339.2" y1="890.50" x2="344.5" y2="890.50" stroke="#111" stroke-width="1.3"/>
<text x="335.70" y="893.25" font-size="7.6" fill="#222" text-anchor="end" textLength="9.6" lengthAdjust="spacingAndGlyphs">0,6</text>
<line x1="339.2" y1="920.60" x2="344.5" y2="920.60" stroke="#111" stroke-width="1.3"/>
<text x="335.70" y="923.35" font-size="7.6" fill="#222" text-anchor="end" textLength="9.6" lengthAdjust="spacingAndGlyphs">0,4</text>
<line x1="339.2" y1="950.70" x2="344.5" y2="950.70" stroke="#111" stroke-width="1.3"/>
<text x="335.70" y="953.45" font-size="7.6" fill="#222" text-anchor="end" textLength="9.6" lengthAdjust="spacingAndGlyphs">0,2</text>
<line x1="339.2" y1="980.80" x2="344.5" y2="980.80" stroke="#111" stroke-width="1.3"/>
<text x="335.70" y="983.55" font-size="7.6" fill="#222" text-anchor="end" textLength="9.6" lengthAdjust="spacingAndGlyphs">0,0</text>
<line x1="344.50" y1="988.6" x2="344.50" y2="993.6" stroke="#111" stroke-width="1.3"/>
<text x="344.80" y="1003.90" font-size="7.8" fill="#222" text-anchor="middle">0</text>
<line x1="369.42" y1="988.6" x2="369.42" y2="993.6" stroke="#111" stroke-width="1.3"/>
<text x="369.72" y="1003.90" font-size="7.8" fill="#222" text-anchor="middle">6</text>
<line x1="394.33" y1="988.6" x2="394.33" y2="993.6" stroke="#111" stroke-width="1.3"/>
<text x="394.63" y="1003.90" font-size="7.8" fill="#222" text-anchor="middle">12</text>
<line x1="419.25" y1="988.6" x2="419.25" y2="993.6" stroke="#111" stroke-width="1.3"/>
<text x="419.55" y="1003.90" font-size="7.8" fill="#222" text-anchor="middle">18</text>
<line x1="444.17" y1="988.6" x2="444.17" y2="993.6" stroke="#111" stroke-width="1.3"/>
<text x="444.47" y="1003.90" font-size="7.8" fill="#222" text-anchor="middle">24</text>
<line x1="469.08" y1="988.6" x2="469.08" y2="993.6" stroke="#111" stroke-width="1.3"/>
<text x="469.38" y="1003.90" font-size="7.8" fill="#222" text-anchor="middle">30</text>
<line x1="494.00" y1="988.6" x2="494.00" y2="993.6" stroke="#111" stroke-width="1.3"/>
<text x="494.30" y="1003.90" font-size="7.8" fill="#222" text-anchor="middle">36</text>
<text x="376.10" y="1016.70" font-size="9.7" fill="#222" textLength="94.6" lengthAdjust="spacingAndGlyphs">Time to event [OS] (months)</text>
<text x="0" y="0" font-size="10" fill="#383838" text-anchor="middle" textLength="43.6" lengthAdjust="spacingAndGlyphs" transform="translate(320.60,905.55) rotate(-90)">Cum survival</text>
<text x="0" y="0" font-size="19.3" font-weight="bold" fill="#000" transform="translate(267.60,819.40) scale(1.06,1)">H</text>
<path d="M344.50,830.30 L360.50,830.30 L360.50,831.50 L372.80,831.50 L372.80,832.80 L409.70,832.80 L409.70,833.50 L414.30,833.50 L414.30,835.80 L439.20,835.80 L439.20,836.90 L440.80,836.90 L440.80,837.40 L463.10,837.40 L463.10,838.30 L470.80,838.30 L470.80,842.00 L491.50,842.00" fill="none" stroke="#52a02a" stroke-width="1.5" stroke-dasharray="4.8,4"/>
<path d="M439.00,835.80 L439.20,835.80 L439.20,835.80 L439.20,836.90 L439.20,836.90 L440.80,836.90 L440.80,836.90 L440.80,837.40 L440.80,837.40 L463.10,837.40 L463.10,837.40 L463.10,838.30 L463.10,838.30 L463.50,838.30" fill="none" stroke="#52a02a" stroke-width="1.8"/>
<path d="M470.00,838.30 L470.80,838.30 L470.80,838.30 L470.80,842.00 L470.80,842.00 L491.50,842.00" fill="none" stroke="#52a02a" stroke-width="1.8"/>
<path d="M344.50,830.30 L408.50,830.30 L408.50,844.00 L487.70,844.00" fill="none" stroke="#4f2069" stroke-width="1.45" stroke-dasharray="4.8,4"/>
<path d="M344.50,830.30 L351.50,830.30 L351.50,836.90 L365.80,836.90 L365.80,843.80 L378.90,843.80 L378.90,850.80 L487.70,850.80" fill="none" stroke="#284888" stroke-width="1.45" stroke-dasharray="4.8,4"/>
<path d="M444.00,850.80 L476.00,850.80" fill="none" stroke="#284888" stroke-width="1.75"/>
<path d="M344.50,830.30 L349.40,830.30 L349.40,842.80 L382.30,842.80 L382.30,855.10 L433.80,855.10 L433.80,867.80 L487.70,867.80" fill="none" stroke="#ad002b" stroke-width="1.45" stroke-dasharray="4.8,4"/>
<text x="349.90" y="956.40" font-size="7" fill="#52a02a" textLength="60.8" lengthAdjust="spacingAndGlyphs">NCKT and <tspan font-style="italic">TP53WT</tspan></text>
<text x="349.90" y="964.90" font-size="7" fill="#284888" textLength="55.0" lengthAdjust="spacingAndGlyphs">CKT and <tspan font-style="italic">TP53WT</tspan></text>
<text x="349.90" y="973.40" font-size="7" fill="#ad002b" textLength="75.3" lengthAdjust="spacingAndGlyphs">NCKT and <tspan font-style="italic">TP53del/mut</tspan></text>
<text x="349.90" y="981.70" font-size="7" fill="#4f2069" textLength="69.7" lengthAdjust="spacingAndGlyphs">CKT and <tspan font-style="italic">TP53del/mut</tspan></text>
<text x="267.40" y="1028.10" font-size="7" fill="#222" textLength="30" lengthAdjust="spacingAndGlyphs">No at risk</text>
<text x="267.40" y="1038.80" font-size="7" fill="#52a02a" textLength="61.2" lengthAdjust="spacingAndGlyphs">NCKT and <tspan font-style="italic">TP53WT</tspan></text>
<text x="267.40" y="1049.90" font-size="7" fill="#284888" textLength="55.5" lengthAdjust="spacingAndGlyphs">CKT and <tspan font-style="italic">TP53WT</tspan></text>
<text x="267.40" y="1061.00" font-size="7" fill="#ad002b" textLength="32.4" lengthAdjust="spacingAndGlyphs">NCKT and</text>
<text x="267.40" y="1069.50" font-size="7" fill="#ad002b" textLength="40" lengthAdjust="spacingAndGlyphs"><tspan font-style="italic">TP53del/mut</tspan></text>
<text x="267.40" y="1080.80" font-size="7" fill="#4f2069" textLength="26.6" lengthAdjust="spacingAndGlyphs">CKT and</text>
<text x="267.40" y="1089.30" font-size="7" fill="#4f2069" textLength="40" lengthAdjust="spacingAndGlyphs"><tspan font-style="italic">TP53del/mut</tspan></text>
<text x="344.60" y="1038.80" font-size="7.3" fill="#222" text-anchor="middle">150</text>
<text x="369.45" y="1038.80" font-size="7.3" fill="#222" text-anchor="middle">143</text>
<text x="394.30" y="1038.80" font-size="7.3" fill="#222" text-anchor="middle">143</text>
<text x="419.15" y="1038.80" font-size="7.3" fill="#222" text-anchor="middle">140</text>
<text x="444.00" y="1038.80" font-size="7.3" fill="#222" text-anchor="middle">133</text>
<text x="468.85" y="1038.80" font-size="7.3" fill="#222" text-anchor="middle">56</text>
<text x="493.70" y="1038.80" font-size="7.3" fill="#222" text-anchor="middle">0</text>
<text x="344.60" y="1049.90" font-size="7.3" fill="#222" text-anchor="middle">22</text>
<text x="369.45" y="1049.90" font-size="7.3" fill="#222" text-anchor="middle">20</text>
<text x="394.30" y="1049.90" font-size="7.3" fill="#222" text-anchor="middle">19</text>
<text x="419.15" y="1049.90" font-size="7.3" fill="#222" text-anchor="middle">19</text>
<text x="444.00" y="1049.90" font-size="7.3" fill="#222" text-anchor="middle">19</text>
<text x="468.85" y="1049.90" font-size="7.3" fill="#222" text-anchor="middle">5</text>
<text x="493.70" y="1049.90" font-size="7.3" fill="#222" text-anchor="middle">0</text>
<text x="344.60" y="1065.80" font-size="7.3" fill="#222" text-anchor="middle">12</text>
<text x="369.45" y="1065.80" font-size="7.3" fill="#222" text-anchor="middle">11</text>
<text x="394.30" y="1065.80" font-size="7.3" fill="#222" text-anchor="middle">10</text>
<text x="419.15" y="1065.80" font-size="7.3" fill="#222" text-anchor="middle">10</text>
<text x="444.00" y="1065.80" font-size="7.3" fill="#222" text-anchor="middle">9</text>
<text x="468.85" y="1065.80" font-size="7.3" fill="#222" text-anchor="middle">3</text>
<text x="493.70" y="1065.80" font-size="7.3" fill="#222" text-anchor="middle">0</text>
<text x="344.60" y="1085.40" font-size="7.3" fill="#222" text-anchor="middle">11</text>
<text x="369.45" y="1085.40" font-size="7.3" fill="#222" text-anchor="middle">11</text>
<text x="394.30" y="1085.40" font-size="7.3" fill="#222" text-anchor="middle">11</text>
<text x="419.15" y="1085.40" font-size="7.3" fill="#222" text-anchor="middle">10</text>
<text x="444.00" y="1085.40" font-size="7.3" fill="#222" text-anchor="middle">9</text>
<text x="468.85" y="1085.40" font-size="7.3" fill="#222" text-anchor="middle">3</text>
<text x="493.70" y="1085.40" font-size="7.3" fill="#222" text-anchor="middle">0</text>
<line x1="347.00" y1="828.70" x2="347.00" y2="831.90" stroke="#52a02a" stroke-width="1.1"/>
<line x1="349.00" y1="828.70" x2="349.00" y2="831.90" stroke="#52a02a" stroke-width="1.1"/>
<line x1="352.00" y1="828.70" x2="352.00" y2="831.90" stroke="#52a02a" stroke-width="1.1"/>
<line x1="441.00" y1="835.80" x2="441.00" y2="839.00" stroke="#52a02a" stroke-width="1.1"/>
<line x1="442.60" y1="835.80" x2="442.60" y2="839.00" stroke="#52a02a" stroke-width="1.1"/>
<line x1="444.20" y1="835.80" x2="444.20" y2="839.00" stroke="#52a02a" stroke-width="1.1"/>
<line x1="445.80" y1="835.80" x2="445.80" y2="839.00" stroke="#52a02a" stroke-width="1.1"/>
<line x1="447.40" y1="835.80" x2="447.40" y2="839.00" stroke="#52a02a" stroke-width="1.1"/>
<line x1="449.00" y1="835.80" x2="449.00" y2="839.00" stroke="#52a02a" stroke-width="1.1"/>
<line x1="450.60" y1="835.80" x2="450.60" y2="839.00" stroke="#52a02a" stroke-width="1.1"/>
<line x1="452.20" y1="835.80" x2="452.20" y2="839.00" stroke="#52a02a" stroke-width="1.1"/>
<line x1="453.80" y1="835.80" x2="453.80" y2="839.00" stroke="#52a02a" stroke-width="1.1"/>
<line x1="455.40" y1="835.80" x2="455.40" y2="839.00" stroke="#52a02a" stroke-width="1.1"/>
<line x1="457.00" y1="835.80" x2="457.00" y2="839.00" stroke="#52a02a" stroke-width="1.1"/>
<line x1="458.60" y1="835.80" x2="458.60" y2="839.00" stroke="#52a02a" stroke-width="1.1"/>
<line x1="460.20" y1="835.80" x2="460.20" y2="839.00" stroke="#52a02a" stroke-width="1.1"/>
<line x1="461.80" y1="835.80" x2="461.80" y2="839.00" stroke="#52a02a" stroke-width="1.1"/>
<line x1="472.00" y1="840.40" x2="472.00" y2="843.60" stroke="#52a02a" stroke-width="1.1"/>
<line x1="473.80" y1="840.40" x2="473.80" y2="843.60" stroke="#52a02a" stroke-width="1.1"/>
<line x1="475.60" y1="840.40" x2="475.60" y2="843.60" stroke="#52a02a" stroke-width="1.1"/>
<line x1="477.40" y1="840.40" x2="477.40" y2="843.60" stroke="#52a02a" stroke-width="1.1"/>
<line x1="479.20" y1="840.40" x2="479.20" y2="843.60" stroke="#52a02a" stroke-width="1.1"/>
<line x1="481.00" y1="840.40" x2="481.00" y2="843.60" stroke="#52a02a" stroke-width="1.1"/>
<line x1="482.80" y1="840.40" x2="482.80" y2="843.60" stroke="#52a02a" stroke-width="1.1"/>
<line x1="484.60" y1="840.40" x2="484.60" y2="843.60" stroke="#52a02a" stroke-width="1.1"/>
<line x1="486.40" y1="840.40" x2="486.40" y2="843.60" stroke="#52a02a" stroke-width="1.1"/>
<line x1="488.20" y1="840.40" x2="488.20" y2="843.60" stroke="#52a02a" stroke-width="1.1"/>
<line x1="490.00" y1="840.40" x2="490.00" y2="843.60" stroke="#52a02a" stroke-width="1.1"/>
<line x1="440.00" y1="842.40" x2="440.00" y2="845.60" stroke="#4f2069" stroke-width="1.1"/>
<line x1="445.00" y1="842.40" x2="445.00" y2="845.60" stroke="#4f2069" stroke-width="1.1"/>
<line x1="452.00" y1="842.40" x2="452.00" y2="845.60" stroke="#4f2069" stroke-width="1.1"/>
<line x1="459.00" y1="842.40" x2="459.00" y2="845.60" stroke="#4f2069" stroke-width="1.1"/>
<line x1="468.00" y1="842.40" x2="468.00" y2="845.60" stroke="#4f2069" stroke-width="1.1"/>
<line x1="475.00" y1="842.40" x2="475.00" y2="845.60" stroke="#4f2069" stroke-width="1.1"/>
<line x1="487.70" y1="842.40" x2="487.70" y2="845.60" stroke="#4f2069" stroke-width="1.1"/>
<line x1="446.00" y1="849.20" x2="446.00" y2="852.40" stroke="#284888" stroke-width="1.1"/>
<line x1="448.00" y1="849.20" x2="448.00" y2="852.40" stroke="#284888" stroke-width="1.1"/>
<line x1="450.00" y1="849.20" x2="450.00" y2="852.40" stroke="#284888" stroke-width="1.1"/>
<line x1="455.00" y1="849.20" x2="455.00" y2="852.40" stroke="#284888" stroke-width="1.1"/>
<line x1="457.00" y1="849.20" x2="457.00" y2="852.40" stroke="#284888" stroke-width="1.1"/>
<line x1="460.00" y1="849.20" x2="460.00" y2="852.40" stroke="#284888" stroke-width="1.1"/>
<line x1="464.00" y1="849.20" x2="464.00" y2="852.40" stroke="#284888" stroke-width="1.1"/>
<line x1="466.00" y1="849.20" x2="466.00" y2="852.40" stroke="#284888" stroke-width="1.1"/>
<line x1="468.00" y1="849.20" x2="468.00" y2="852.40" stroke="#284888" stroke-width="1.1"/>
<line x1="472.00" y1="849.20" x2="472.00" y2="852.40" stroke="#284888" stroke-width="1.1"/>
<line x1="475.00" y1="849.20" x2="475.00" y2="852.40" stroke="#284888" stroke-width="1.1"/>
<line x1="479.00" y1="849.20" x2="479.00" y2="852.40" stroke="#284888" stroke-width="1.1"/>
<line x1="483.00" y1="849.20" x2="483.00" y2="852.40" stroke="#284888" stroke-width="1.1"/>
<line x1="487.70" y1="849.20" x2="487.70" y2="852.40" stroke="#284888" stroke-width="1.1"/>
<line x1="447.00" y1="866.20" x2="447.00" y2="869.40" stroke="#ad002b" stroke-width="1.1"/>
<line x1="450.00" y1="866.20" x2="450.00" y2="869.40" stroke="#ad002b" stroke-width="1.1"/>
<line x1="458.00" y1="866.20" x2="458.00" y2="869.40" stroke="#ad002b" stroke-width="1.1"/>
<line x1="460.00" y1="866.20" x2="460.00" y2="869.40" stroke="#ad002b" stroke-width="1.1"/>
<line x1="468.00" y1="866.20" x2="468.00" y2="869.40" stroke="#ad002b" stroke-width="1.1"/>
<line x1="478.00" y1="866.20" x2="478.00" y2="869.40" stroke="#ad002b" stroke-width="1.1"/>
<line x1="487.70" y1="866.20" x2="487.70" y2="869.40" stroke="#ad002b" stroke-width="1.1"/>
<rect x="0.75" y="0.75" width="518.5" height="1101.5" fill="none" stroke="#3a0a4e" stroke-width="1.5"/>
</svg>
</body></html>
